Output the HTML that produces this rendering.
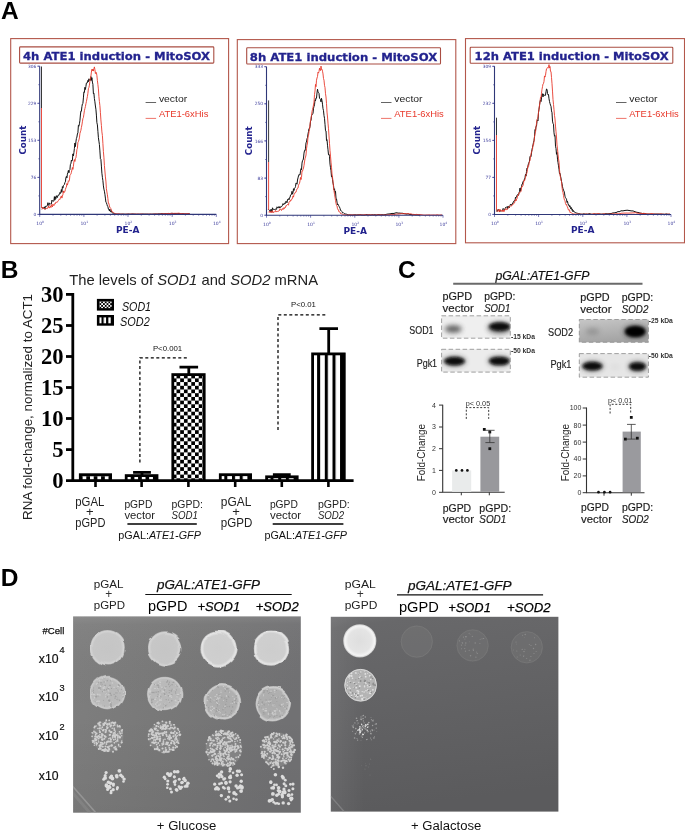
<!DOCTYPE html>
<html><head><meta charset="utf-8"><title>Figure</title>
<style>
html,body{margin:0;padding:0;background:#fff}
svg{display:block}
.s{font-family:"Liberation Sans",sans-serif}
.r{font-family:"Liberation Serif",serif}
.d{font-family:"DejaVu Sans","Liberation Sans",sans-serif}
.b{font-weight:bold}
.i{font-style:italic}
</style></head><body>
<svg width="685" height="832" viewBox="0 0 685 832">
<rect width="685" height="832" fill="#fff"/>
<text class="s b" x="0.9" y="18.6" font-size="24.5">A</text>
<rect x="10.7" y="38.6" width="217.9" height="205.0" fill="#fff" stroke="#b3574b" stroke-width="1.1"/>
<rect x="19.6" y="46.9" width="194.2" height="16.2" rx="0.8" fill="#fff" stroke="#a94d42" stroke-width="1.1"/>
<text class="d b" x="23" y="60" font-size="11.3" fill="#23238e" textLength="187" lengthAdjust="spacingAndGlyphs" stroke="#23238e" stroke-width="0.3">4h ATE1 induction - MitoSOX</text>
<path d="M37.2,214.4 H39.7" stroke="#23238e" stroke-width="0.6"/>
<text class="d" x="36.3" y="216" font-size="4.4" fill="#3c3c9c" text-anchor="end">0</text>
<path d="M37.2,177.4 H39.7" stroke="#23238e" stroke-width="0.6"/>
<text class="d" x="36.3" y="178.95" font-size="4.4" fill="#3c3c9c" text-anchor="end">76</text>
<path d="M37.2,140.3 H39.7" stroke="#23238e" stroke-width="0.6"/>
<text class="d" x="36.3" y="141.9" font-size="4.4" fill="#3c3c9c" text-anchor="end">153</text>
<path d="M37.2,103.3 H39.7" stroke="#23238e" stroke-width="0.6"/>
<text class="d" x="36.3" y="104.85" font-size="4.4" fill="#3c3c9c" text-anchor="end">229</text>
<path d="M37.2,66.2 H39.7" stroke="#23238e" stroke-width="0.6"/>
<text class="d" x="36.3" y="67.8" font-size="4.4" fill="#3c3c9c" text-anchor="end">306</text>
<path d="M38.2,214.4 H39.7" stroke="#23238e" stroke-width="0.5"/>
<path d="M38.2,195.9 H39.7" stroke="#23238e" stroke-width="0.5"/>
<path d="M38.2,177.4 H39.7" stroke="#23238e" stroke-width="0.5"/>
<path d="M38.2,158.8 H39.7" stroke="#23238e" stroke-width="0.5"/>
<path d="M38.2,140.3 H39.7" stroke="#23238e" stroke-width="0.5"/>
<path d="M38.2,121.8 H39.7" stroke="#23238e" stroke-width="0.5"/>
<path d="M38.2,103.3 H39.7" stroke="#23238e" stroke-width="0.5"/>
<path d="M38.2,84.7 H39.7" stroke="#23238e" stroke-width="0.5"/>
<path d="M38.2,66.2 H39.7" stroke="#23238e" stroke-width="0.5"/>
<path d="M39.7,214.4 V216.9" stroke="#23238e" stroke-width="0.6"/>
<text class="d" x="36.3" y="224.8" font-size="4.5" fill="#3c3c9c">10<tspan dy="-2" font-size="3">0</tspan></text>
<path d="M53.0,214.4 V215.9" stroke="#23238e" stroke-width="0.45"/>
<path d="M60.8,214.4 V215.9" stroke="#23238e" stroke-width="0.45"/>
<path d="M66.3,214.4 V215.9" stroke="#23238e" stroke-width="0.45"/>
<path d="M70.6,214.4 V215.9" stroke="#23238e" stroke-width="0.45"/>
<path d="M74.1,214.4 V215.9" stroke="#23238e" stroke-width="0.45"/>
<path d="M77.0,214.4 V215.9" stroke="#23238e" stroke-width="0.45"/>
<path d="M79.6,214.4 V215.9" stroke="#23238e" stroke-width="0.45"/>
<path d="M81.8,214.4 V215.9" stroke="#23238e" stroke-width="0.45"/>
<path d="M83.9,214.4 V216.9" stroke="#23238e" stroke-width="0.6"/>
<text class="d" x="80.5" y="224.8" font-size="4.5" fill="#3c3c9c">10<tspan dy="-2" font-size="3">1</tspan></text>
<path d="M97.1,214.4 V215.9" stroke="#23238e" stroke-width="0.45"/>
<path d="M104.9,214.4 V215.9" stroke="#23238e" stroke-width="0.45"/>
<path d="M110.4,214.4 V215.9" stroke="#23238e" stroke-width="0.45"/>
<path d="M114.7,214.4 V215.9" stroke="#23238e" stroke-width="0.45"/>
<path d="M118.2,214.4 V215.9" stroke="#23238e" stroke-width="0.45"/>
<path d="M121.2,214.4 V215.9" stroke="#23238e" stroke-width="0.45"/>
<path d="M123.7,214.4 V215.9" stroke="#23238e" stroke-width="0.45"/>
<path d="M126.0,214.4 V215.9" stroke="#23238e" stroke-width="0.45"/>
<path d="M128.0,214.4 V216.9" stroke="#23238e" stroke-width="0.6"/>
<text class="d" x="124.6" y="224.8" font-size="4.5" fill="#3c3c9c">10<tspan dy="-2" font-size="3">2</tspan></text>
<path d="M141.3,214.4 V215.9" stroke="#23238e" stroke-width="0.45"/>
<path d="M149.1,214.4 V215.9" stroke="#23238e" stroke-width="0.45"/>
<path d="M154.6,214.4 V215.9" stroke="#23238e" stroke-width="0.45"/>
<path d="M158.9,214.4 V215.9" stroke="#23238e" stroke-width="0.45"/>
<path d="M162.4,214.4 V215.9" stroke="#23238e" stroke-width="0.45"/>
<path d="M165.3,214.4 V215.9" stroke="#23238e" stroke-width="0.45"/>
<path d="M167.9,214.4 V215.9" stroke="#23238e" stroke-width="0.45"/>
<path d="M170.1,214.4 V215.9" stroke="#23238e" stroke-width="0.45"/>
<path d="M172.2,214.4 V216.9" stroke="#23238e" stroke-width="0.6"/>
<text class="d" x="168.8" y="224.8" font-size="4.5" fill="#3c3c9c">10<tspan dy="-2" font-size="3">3</tspan></text>
<path d="M185.4,214.4 V215.9" stroke="#23238e" stroke-width="0.45"/>
<path d="M193.2,214.4 V215.9" stroke="#23238e" stroke-width="0.45"/>
<path d="M198.7,214.4 V215.9" stroke="#23238e" stroke-width="0.45"/>
<path d="M203.0,214.4 V215.9" stroke="#23238e" stroke-width="0.45"/>
<path d="M206.5,214.4 V215.9" stroke="#23238e" stroke-width="0.45"/>
<path d="M209.5,214.4 V215.9" stroke="#23238e" stroke-width="0.45"/>
<path d="M212.0,214.4 V215.9" stroke="#23238e" stroke-width="0.45"/>
<path d="M214.3,214.4 V215.9" stroke="#23238e" stroke-width="0.45"/>
<path d="M216.3,214.4 V216.9" stroke="#23238e" stroke-width="0.6"/>
<text class="d" x="212.9" y="224.8" font-size="4.5" fill="#3c3c9c">10<tspan dy="-2" font-size="3">4</tspan></text>
<text class="d b" x="25.7" y="154.5" font-size="8.8" fill="#23238e" textLength="28.8" lengthAdjust="spacingAndGlyphs" transform="rotate(-90 25.700000000000003 154.5)">Count</text>
<text class="d b" x="116" y="233.2" font-size="9.2" fill="#23238e" textLength="23.5" lengthAdjust="spacingAndGlyphs">PE-A</text>
<path d="M145.6,102.5 H156.1" stroke="#222" stroke-width="0.7"/>
<text class="s" x="158.9" y="101.6" font-size="9.9" fill="#222" textLength="28.3" lengthAdjust="spacingAndGlyphs">vector</text>
<path d="M145.6,118.4 H156.1" stroke="#e8392b" stroke-width="0.7"/>
<text class="s" x="158.9" y="117.3" font-size="9.9" fill="#e8392b" textLength="49.5" lengthAdjust="spacingAndGlyphs">ATE1-6xHis</text>
<path d="M41.5,66.5 V108" stroke="#222" stroke-width="0.9"/>
<path d="M41.5,108 V208" stroke="#e8392b" stroke-width="0.9"/>
<path d="M41.9,208.5 L42.4,208.2 L42.9,207.4 L43.4,208.3 L43.9,207.7 L44.4,206.8 L44.9,209.3 L45.4,207.2 L45.9,206.0 L46.4,206.2 L46.9,205.8 L47.4,205.6 L47.9,202.7 L48.4,204.4 L48.9,205.5 L49.4,202.9 L49.9,203.6 L50.4,204.2 L50.9,203.7 L51.4,203.9 L51.9,200.2 L52.4,201.1 L52.9,200.7 L53.4,201.1 L53.9,201.1 L54.4,196.6 L54.9,200.1 L55.4,196.8 L55.9,198.6 L56.4,195.7 L56.9,196.9 L57.4,197.5 L57.9,195.4 L58.4,195.3 L58.9,195.3 L59.4,193.7 L59.9,192.5 L60.4,193.5 L60.9,192.1 L61.4,189.5 L61.9,192.3 L62.4,186.6 L62.9,188.1 L63.4,185.6 L63.9,184.9 L64.4,184.5 L64.9,182.6 L65.4,181.9 L65.9,177.7 L66.4,176.4 L66.9,177.9 L67.4,174.2 L67.9,172.6 L68.4,170.4 L68.9,172.8 L69.4,170.4 L69.9,169.8 L70.4,164.3 L70.9,163.9 L71.4,160.1 L71.9,161.1 L72.4,160.3 L72.9,153.9 L73.4,155.9 L73.9,152.6 L74.4,148.4 L74.9,143.0 L75.4,146.6 L75.9,141.9 L76.4,138.5 L76.9,137.1 L77.4,134.0 L77.9,132.8 L78.4,125.4 L78.9,126.2 L79.4,123.8 L79.9,120.8 L80.4,115.0 L80.9,111.1 L81.4,111.2 L81.9,106.7 L82.4,103.9 L82.9,103.4 L83.4,97.9 L83.9,91.9 L84.4,92.4 L84.9,87.3 L85.4,89.5 L85.9,86.5 L86.4,83.0 L86.9,82.5 L87.4,82.7 L87.9,80.4 L88.4,81.7 L88.9,78.8 L89.4,80.2 L89.9,80.6 L90.4,80.4 L90.9,76.6 L91.4,80.4 L91.9,77.7 L92.4,82.1 L92.9,84.3 L93.4,93.7 L93.9,93.1 L94.4,98.6 L94.9,101.8 L95.4,106.0 L95.9,109.2 L96.4,115.1 L96.9,122.7 L97.4,124.9 L97.9,131.3 L98.4,137.7 L98.9,141.1 L99.4,144.5 L99.9,150.9 L100.4,158.8 L100.9,159.4 L101.4,166.1 L101.9,173.2 L102.4,177.3 L102.9,180.6 L103.4,185.9 L103.9,189.1 L104.4,191.2 L104.9,194.2 L105.4,198.1 L105.9,202.1 L106.4,202.7 L106.9,204.3 L107.4,206.0 L107.9,206.7 L108.4,209.1 L108.9,209.0 L109.4,211.0 L109.9,209.1 L110.4,211.8 L110.9,211.4 L111.4,210.6 L111.9,212.6 L112.4,212.9 L112.9,213.1 L113.4,213.3 L113.9,213.4 L114.4,213.6 L116.0,214.2 L117.0,214.2 L118.0,214.3 L119.0,214.2 L120.0,214.1 L121.0,214.3 L122.0,214.1 L123.0,214.2 L124.0,214.1 L125.0,214.3 L126.0,214.2 L127.0,214.3 L128.0,214.0 L129.0,214.1 L130.0,214.2 L131.0,214.2 L132.0,214.0 L133.0,214.0 L134.0,214.1 L135.0,214.2 L136.0,214.2 L137.0,214.3 L138.0,214.2 L139.0,214.2 L140.0,214.2 L141.0,214.2 L142.0,214.2 L143.0,214.0 L144.0,214.2 L145.0,214.1 L146.0,214.2 L147.0,214.1 L148.0,214.2 L149.0,214.3 L150.0,214.1 L151.0,214.2 L152.0,214.2 L153.0,214.1 L154.0,214.1 L155.0,214.0 L156.0,214.0 L157.0,214.1 L158.0,214.0 L159.0,213.8 L160.0,214.0 L161.0,213.7 L162.0,213.5 L163.0,213.8 L164.0,213.8 L165.0,213.6 L166.0,213.7 L167.0,213.7 L168.0,213.4 L169.0,213.5 L170.0,213.5 L171.0,213.4 L172.0,213.3 L173.0,213.5 L174.0,213.6 L175.0,213.4 L176.0,213.6 L177.0,213.6 L178.0,213.7 L179.0,213.5 L180.0,213.7 L181.0,213.8 L182.0,213.7 L183.0,213.6 L184.0,213.8 L185.0,214.0 L186.0,213.8 L187.0,214.0 L188.0,213.8 L189.0,213.7 L190.0,214.2" fill="none" stroke="#111" stroke-width="1.0" stroke-linejoin="round"/>
<path d="M41.9,209.5 L42.4,208.7 L42.9,207.3 L43.4,208.2 L43.9,208.9 L44.4,208.3 L44.9,209.1 L45.4,209.0 L45.9,208.8 L46.4,208.4 L46.9,209.0 L47.4,208.3 L47.9,208.0 L48.4,205.9 L48.9,207.8 L49.4,207.9 L49.9,206.5 L50.4,206.1 L50.9,207.6 L51.4,204.6 L51.9,205.9 L52.4,207.0 L52.9,204.2 L53.4,205.1 L53.9,205.7 L54.4,203.8 L54.9,203.9 L55.4,203.8 L55.9,202.1 L56.4,202.3 L56.9,202.2 L57.4,202.2 L57.9,201.1 L58.4,200.6 L58.9,199.5 L59.4,199.3 L59.9,199.6 L60.4,198.2 L60.9,196.7 L61.4,195.9 L61.9,198.1 L62.4,196.0 L62.9,194.7 L63.4,190.9 L63.9,192.8 L64.4,191.7 L64.9,191.7 L65.4,189.4 L65.9,187.8 L66.4,187.1 L66.9,183.5 L67.4,185.1 L67.9,183.1 L68.4,180.7 L68.9,181.3 L69.4,180.4 L69.9,175.5 L70.4,174.7 L70.9,174.1 L71.4,172.3 L71.9,170.0 L72.4,167.5 L72.9,169.4 L73.4,166.3 L73.9,161.7 L74.4,159.6 L74.9,161.5 L75.4,158.6 L75.9,157.8 L76.4,154.3 L76.9,149.6 L77.4,148.4 L77.9,142.5 L78.4,141.7 L78.9,139.9 L79.4,137.9 L79.9,133.6 L80.4,131.9 L80.9,130.3 L81.4,127.4 L81.9,125.0 L82.4,121.8 L82.9,118.6 L83.4,117.6 L83.9,114.2 L84.4,110.7 L84.9,108.6 L85.4,106.6 L85.9,103.8 L86.4,101.6 L86.9,98.9 L87.4,96.5 L87.9,93.3 L88.4,88.7 L88.9,87.6 L89.4,85.2 L89.9,81.4 L90.4,77.9 L90.9,76.2 L91.4,72.1 L91.9,69.3 L92.4,70.8 L92.9,69.0 L93.4,71.1 L93.9,68.7 L94.4,66.9 L94.9,69.5 L95.4,73.6 L95.9,72.2 L96.4,72.6 L96.9,75.7 L97.4,80.6 L97.9,84.6 L98.4,88.9 L98.9,96.4 L99.4,101.4 L99.9,105.7 L100.4,112.3 L100.9,119.9 L101.4,125.4 L101.9,131.9 L102.4,135.5 L102.9,143.5 L103.4,151.7 L103.9,157.2 L104.4,165.5 L104.9,171.0 L105.4,176.9 L105.9,181.1 L106.4,188.7 L106.9,192.0 L107.4,194.8 L107.9,198.6 L108.4,203.4 L108.9,203.3 L109.4,206.0 L109.9,207.5 L110.4,208.0 L110.9,208.4 L111.4,210.2 L111.9,211.1 L112.4,212.2 L112.9,212.5 L113.4,212.4 L113.9,212.8 L114.4,213.2 L114.9,213.5 L115.4,213.6 L115.9,213.7 L116.4,213.7 L116.9,213.7 L117.4,213.7 L117.9,213.6 L118.4,213.6 L120.0,214.2 L121.0,214.1 L122.0,214.1 L123.0,214.1 L124.0,214.3 L125.0,214.3 L126.0,214.2 L127.0,214.0 L128.0,214.2 L129.0,214.2 L130.0,214.2 L131.0,214.0 L132.0,214.0 L133.0,214.1 L134.0,214.2 L135.0,213.9 L136.0,214.2 L137.0,214.1 L138.0,213.9 L139.0,214.3 L140.0,214.1 L141.0,214.0 L142.0,214.0 L143.0,214.2 L144.0,214.3 L145.0,214.2 L146.0,214.2 L147.0,214.3 L148.0,214.1 L149.0,214.2 L150.0,214.2 L151.0,214.1 L152.0,214.3 L153.0,214.1 L154.0,214.1 L155.0,214.0 L156.0,214.1 L157.0,213.9 L158.0,214.2 L159.0,214.1 L160.0,214.1 L161.0,213.8 L162.0,213.8 L163.0,213.7 L164.0,213.7 L165.0,213.7 L166.0,213.7 L167.0,213.5 L168.0,213.5 L169.0,213.5 L170.0,213.5 L171.0,213.5 L172.0,213.3 L173.0,213.4 L174.0,213.4 L175.0,213.3 L176.0,213.4 L177.0,213.3 L178.0,213.3 L179.0,213.1 L180.0,213.5 L181.0,213.5 L182.0,213.6 L183.0,213.7 L184.0,213.6 L185.0,213.8 L186.0,213.8 L187.0,213.6 L188.0,213.5 L189.0,213.8 L190.0,214.1" fill="none" stroke="#e8392b" stroke-width="0.9" stroke-linejoin="round"/>
<path d="M39.7,66.2 V214.4 H216.3" fill="none" stroke="#2f3778" stroke-width="1.1"/>
<rect x="237.3" y="39.6" width="218.5" height="204.0" fill="#fff" stroke="#b3574b" stroke-width="1.1"/>
<rect x="246.7" y="47.7" width="193.8" height="16.3" rx="0.8" fill="#fff" stroke="#a94d42" stroke-width="1.1"/>
<text class="d b" x="249.8" y="60.9" font-size="11.3" fill="#23238e" textLength="187.4" lengthAdjust="spacingAndGlyphs" stroke="#23238e" stroke-width="0.3">8h ATE1 induction - MitoSOX</text>
<path d="M264.0,215.2 H266.5" stroke="#23238e" stroke-width="0.6"/>
<text class="d" x="263.1" y="216.8" font-size="4.4" fill="#3c3c9c" text-anchor="end">0</text>
<path d="M264.0,178.1 H266.5" stroke="#23238e" stroke-width="0.6"/>
<text class="d" x="263.1" y="179.67" font-size="4.4" fill="#3c3c9c" text-anchor="end">83</text>
<path d="M264.0,140.9 H266.5" stroke="#23238e" stroke-width="0.6"/>
<text class="d" x="263.1" y="142.55" font-size="4.4" fill="#3c3c9c" text-anchor="end">166</text>
<path d="M264.0,103.8 H266.5" stroke="#23238e" stroke-width="0.6"/>
<text class="d" x="263.1" y="105.42" font-size="4.4" fill="#3c3c9c" text-anchor="end">250</text>
<path d="M264.0,66.7 H266.5" stroke="#23238e" stroke-width="0.6"/>
<text class="d" x="263.1" y="68.3" font-size="4.4" fill="#3c3c9c" text-anchor="end">333</text>
<path d="M265.0,215.2 H266.5" stroke="#23238e" stroke-width="0.5"/>
<path d="M265.0,196.6 H266.5" stroke="#23238e" stroke-width="0.5"/>
<path d="M265.0,178.1 H266.5" stroke="#23238e" stroke-width="0.5"/>
<path d="M265.0,159.5 H266.5" stroke="#23238e" stroke-width="0.5"/>
<path d="M265.0,140.9 H266.5" stroke="#23238e" stroke-width="0.5"/>
<path d="M265.0,122.4 H266.5" stroke="#23238e" stroke-width="0.5"/>
<path d="M265.0,103.8 H266.5" stroke="#23238e" stroke-width="0.5"/>
<path d="M265.0,85.3 H266.5" stroke="#23238e" stroke-width="0.5"/>
<path d="M265.0,66.7 H266.5" stroke="#23238e" stroke-width="0.5"/>
<path d="M266.5,215.2 V217.7" stroke="#23238e" stroke-width="0.6"/>
<text class="d" x="263.1" y="225.6" font-size="4.5" fill="#3c3c9c">10<tspan dy="-2" font-size="3">0</tspan></text>
<path d="M279.8,215.2 V216.7" stroke="#23238e" stroke-width="0.45"/>
<path d="M287.6,215.2 V216.7" stroke="#23238e" stroke-width="0.45"/>
<path d="M293.1,215.2 V216.7" stroke="#23238e" stroke-width="0.45"/>
<path d="M297.3,215.2 V216.7" stroke="#23238e" stroke-width="0.45"/>
<path d="M300.8,215.2 V216.7" stroke="#23238e" stroke-width="0.45"/>
<path d="M303.8,215.2 V216.7" stroke="#23238e" stroke-width="0.45"/>
<path d="M306.3,215.2 V216.7" stroke="#23238e" stroke-width="0.45"/>
<path d="M308.6,215.2 V216.7" stroke="#23238e" stroke-width="0.45"/>
<path d="M310.6,215.2 V217.7" stroke="#23238e" stroke-width="0.6"/>
<text class="d" x="307.2" y="225.6" font-size="4.5" fill="#3c3c9c">10<tspan dy="-2" font-size="3">1</tspan></text>
<path d="M323.9,215.2 V216.7" stroke="#23238e" stroke-width="0.45"/>
<path d="M331.7,215.2 V216.7" stroke="#23238e" stroke-width="0.45"/>
<path d="M337.2,215.2 V216.7" stroke="#23238e" stroke-width="0.45"/>
<path d="M341.5,215.2 V216.7" stroke="#23238e" stroke-width="0.45"/>
<path d="M345.0,215.2 V216.7" stroke="#23238e" stroke-width="0.45"/>
<path d="M347.9,215.2 V216.7" stroke="#23238e" stroke-width="0.45"/>
<path d="M350.5,215.2 V216.7" stroke="#23238e" stroke-width="0.45"/>
<path d="M352.7,215.2 V216.7" stroke="#23238e" stroke-width="0.45"/>
<path d="M354.8,215.2 V217.7" stroke="#23238e" stroke-width="0.6"/>
<text class="d" x="351.4" y="225.6" font-size="4.5" fill="#3c3c9c">10<tspan dy="-2" font-size="3">2</tspan></text>
<path d="M368.0,215.2 V216.7" stroke="#23238e" stroke-width="0.45"/>
<path d="M375.8,215.2 V216.7" stroke="#23238e" stroke-width="0.45"/>
<path d="M381.3,215.2 V216.7" stroke="#23238e" stroke-width="0.45"/>
<path d="M385.6,215.2 V216.7" stroke="#23238e" stroke-width="0.45"/>
<path d="M389.1,215.2 V216.7" stroke="#23238e" stroke-width="0.45"/>
<path d="M392.0,215.2 V216.7" stroke="#23238e" stroke-width="0.45"/>
<path d="M394.6,215.2 V216.7" stroke="#23238e" stroke-width="0.45"/>
<path d="M396.9,215.2 V216.7" stroke="#23238e" stroke-width="0.45"/>
<path d="M398.9,215.2 V217.7" stroke="#23238e" stroke-width="0.6"/>
<text class="d" x="395.5" y="225.6" font-size="4.5" fill="#3c3c9c">10<tspan dy="-2" font-size="3">3</tspan></text>
<path d="M412.2,215.2 V216.7" stroke="#23238e" stroke-width="0.45"/>
<path d="M419.9,215.2 V216.7" stroke="#23238e" stroke-width="0.45"/>
<path d="M425.4,215.2 V216.7" stroke="#23238e" stroke-width="0.45"/>
<path d="M429.7,215.2 V216.7" stroke="#23238e" stroke-width="0.45"/>
<path d="M433.2,215.2 V216.7" stroke="#23238e" stroke-width="0.45"/>
<path d="M436.2,215.2 V216.7" stroke="#23238e" stroke-width="0.45"/>
<path d="M438.7,215.2 V216.7" stroke="#23238e" stroke-width="0.45"/>
<path d="M441.0,215.2 V216.7" stroke="#23238e" stroke-width="0.45"/>
<path d="M443.0,215.2 V217.7" stroke="#23238e" stroke-width="0.6"/>
<text class="d" x="439.6" y="225.6" font-size="4.5" fill="#3c3c9c">10<tspan dy="-2" font-size="3">4</tspan></text>
<text class="d b" x="252.5" y="155.15" font-size="8.8" fill="#23238e" textLength="28.8" lengthAdjust="spacingAndGlyphs" transform="rotate(-90 252.5 155.14999999999998)">Count</text>
<text class="d b" x="343.4" y="234" font-size="9.2" fill="#23238e" textLength="23.5" lengthAdjust="spacingAndGlyphs">PE-A</text>
<path d="M381,102.5 H391.5" stroke="#222" stroke-width="0.7"/>
<text class="s" x="394.3" y="101.6" font-size="9.9" fill="#222" textLength="28.3" lengthAdjust="spacingAndGlyphs">vector</text>
<path d="M381,118.4 H391.5" stroke="#e8392b" stroke-width="0.7"/>
<text class="s" x="394.3" y="117.3" font-size="9.9" fill="#e8392b" textLength="49.5" lengthAdjust="spacingAndGlyphs">ATE1-6xHis</text>
<path d="M268.6,100.4 V162" stroke="#222" stroke-width="0.9"/>
<path d="M268.6,162 V210" stroke="#e8392b" stroke-width="0.9"/>
<path d="M268.5,209.7 L269.0,210.2 L269.5,210.4 L270.0,210.4 L270.5,211.7 L271.0,209.1 L271.5,209.7 L272.0,212.2 L272.5,207.8 L273.0,209.0 L273.5,209.5 L274.0,209.4 L274.5,209.6 L275.0,208.9 L275.5,209.3 L276.0,208.9 L276.5,209.4 L277.0,206.8 L277.5,207.5 L278.0,208.1 L278.5,206.9 L279.0,206.7 L279.5,208.0 L280.0,206.5 L280.5,207.4 L281.0,207.2 L281.5,206.4 L282.0,206.3 L282.5,205.3 L283.0,203.6 L283.5,204.5 L284.0,204.6 L284.5,203.1 L285.0,203.1 L285.5,203.4 L286.0,201.2 L286.5,202.1 L287.0,202.8 L287.5,199.6 L288.0,199.7 L288.5,198.7 L289.0,199.8 L289.5,197.7 L290.0,197.6 L290.5,195.1 L291.0,195.0 L291.5,194.2 L292.0,191.3 L292.5,194.2 L293.0,192.7 L293.5,188.7 L294.0,190.5 L294.5,188.3 L295.0,187.8 L295.5,186.5 L296.0,182.9 L296.5,183.3 L297.0,184.2 L297.5,180.0 L298.0,177.9 L298.5,175.9 L299.0,174.4 L299.5,174.8 L300.0,174.9 L300.5,171.1 L301.0,168.7 L301.5,169.7 L302.0,163.1 L302.5,160.6 L303.0,160.3 L303.5,158.0 L304.0,153.1 L304.5,150.6 L305.0,150.9 L305.5,148.2 L306.0,142.8 L306.5,142.0 L307.0,138.7 L307.5,137.7 L308.0,134.0 L308.5,131.5 L309.0,128.5 L309.5,128.6 L310.0,126.7 L310.5,121.1 L311.0,120.7 L311.5,115.7 L312.0,114.9 L312.5,114.0 L313.0,113.3 L313.5,108.2 L314.0,106.5 L314.5,104.8 L315.0,99.9 L315.5,100.7 L316.0,97.9 L316.5,98.1 L317.0,92.9 L317.5,89.2 L318.0,91.7 L318.5,92.9 L319.0,93.4 L319.5,98.3 L320.0,98.6 L320.5,99.6 L321.0,101.9 L321.5,98.3 L322.0,100.7 L322.5,104.2 L323.0,108.7 L323.5,110.7 L324.0,115.6 L324.5,118.3 L325.0,124.3 L325.5,130.7 L326.0,130.9 L326.5,140.5 L327.0,139.7 L327.5,145.2 L328.0,149.8 L328.5,154.8 L329.0,154.3 L329.5,156.3 L330.0,164.1 L330.5,167.7 L331.0,170.7 L331.5,176.8 L332.0,176.3 L332.5,179.3 L333.0,183.1 L333.5,185.3 L334.0,189.7 L334.5,188.8 L335.0,192.4 L335.5,191.3 L336.0,198.2 L336.5,198.9 L337.0,202.1 L337.5,204.9 L338.0,204.2 L338.5,205.3 L339.0,206.3 L339.5,207.1 L340.0,208.3 L340.5,210.3 L341.0,210.5 L341.5,211.1 L342.0,211.5 L342.5,212.9 L343.0,212.9 L343.5,212.8 L344.0,213.3 L344.5,213.6 L345.0,213.8 L345.5,214.0 L346.0,214.1 L346.5,214.2 L347.0,214.3 L348.0,215.1 L349.0,214.9 L350.0,215.0 L351.0,215.0 L352.0,215.1 L353.0,215.0 L354.0,214.9 L355.0,214.8 L356.0,214.9 L357.0,215.1 L358.0,214.7 L359.0,215.0 L360.0,214.6 L361.0,214.9 L362.0,215.0 L363.0,215.0 L364.0,215.1 L365.0,215.0 L366.0,214.7 L367.0,214.6 L368.0,215.0 L369.0,214.8 L370.0,214.9 L371.0,215.1 L372.0,214.6 L373.0,214.9 L374.0,214.9 L375.0,214.6 L376.0,215.1 L377.0,214.9 L378.0,214.6 L379.0,214.6 L380.0,214.8 L381.0,214.8 L382.0,214.6 L383.0,214.9 L384.0,214.8 L385.0,214.6 L386.0,214.5 L387.0,214.1 L388.0,214.1 L389.0,213.9 L390.0,213.9 L391.0,213.6 L392.0,213.4 L393.0,213.5 L394.0,213.4 L395.0,213.1 L396.0,212.8 L397.0,212.8 L398.0,213.1 L399.0,213.1 L400.0,213.1 L401.0,213.3 L402.0,213.2 L403.0,213.4 L404.0,213.6 L405.0,213.9 L406.0,213.9 L407.0,214.2 L408.0,213.7 L409.0,214.3 L410.0,214.6 L411.0,214.4 L412.0,214.8 L413.0,214.9 L414.0,214.6 L415.0,214.9 L416.0,214.9 L417.0,214.9 L418.0,214.9 L419.0,215.1 L420.0,214.9" fill="none" stroke="#111" stroke-width="1.0" stroke-linejoin="round"/>
<path d="M268.5,212.3 L269.0,211.8 L269.5,211.1 L270.0,212.8 L270.5,212.2 L271.0,211.2 L271.5,212.5 L272.0,212.0 L272.5,210.7 L273.0,212.8 L273.5,212.0 L274.0,212.3 L274.5,211.8 L275.0,211.5 L275.5,210.5 L276.0,212.1 L276.5,211.4 L277.0,211.1 L277.5,211.4 L278.0,211.1 L278.5,211.3 L279.0,210.4 L279.5,210.4 L280.0,208.7 L280.5,209.7 L281.0,210.2 L281.5,210.4 L282.0,208.9 L282.5,208.7 L283.0,209.6 L283.5,207.9 L284.0,208.3 L284.5,208.6 L285.0,207.0 L285.5,207.4 L286.0,205.5 L286.5,205.7 L287.0,204.9 L287.5,204.5 L288.0,204.8 L288.5,205.1 L289.0,202.2 L289.5,201.6 L290.0,201.8 L290.5,199.9 L291.0,200.5 L291.5,199.9 L292.0,198.5 L292.5,198.4 L293.0,195.9 L293.5,197.1 L294.0,194.2 L294.5,193.9 L295.0,193.0 L295.5,192.1 L296.0,192.2 L296.5,190.4 L297.0,188.8 L297.5,188.4 L298.0,188.1 L298.5,185.2 L299.0,184.1 L299.5,183.4 L300.0,180.8 L300.5,177.4 L301.0,179.6 L301.5,177.5 L302.0,170.9 L302.5,171.1 L303.0,169.5 L303.5,168.0 L304.0,165.5 L304.5,162.0 L305.0,158.7 L305.5,157.1 L306.0,155.0 L306.5,148.8 L307.0,145.3 L307.5,143.0 L308.0,136.9 L308.5,135.5 L309.0,131.8 L309.5,129.7 L310.0,124.9 L310.5,121.1 L311.0,118.4 L311.5,115.6 L312.0,111.6 L312.5,109.5 L313.0,107.4 L313.5,105.0 L314.0,102.1 L314.5,94.6 L315.0,91.0 L315.5,84.4 L316.0,86.7 L316.5,80.2 L317.0,78.0 L317.5,76.5 L318.0,72.2 L318.5,73.1 L319.0,71.5 L319.5,68.2 L320.0,70.1 L320.5,70.6 L321.0,66.1 L321.5,69.5 L322.0,69.2 L322.5,71.2 L323.0,73.9 L323.5,78.5 L324.0,80.2 L324.5,85.3 L325.0,87.6 L325.5,93.7 L326.0,97.0 L326.5,103.5 L327.0,112.1 L327.5,117.0 L328.0,123.2 L328.5,128.8 L329.0,135.9 L329.5,143.4 L330.0,150.6 L330.5,156.1 L331.0,162.2 L331.5,167.2 L332.0,174.0 L332.5,177.1 L333.0,181.7 L333.5,187.5 L334.0,190.8 L334.5,194.2 L335.0,197.3 L335.5,200.3 L336.0,203.4 L336.5,205.3 L337.0,205.9 L337.5,208.7 L338.0,209.8 L338.5,209.9 L339.0,211.9 L339.5,211.8 L340.0,212.3 L340.5,213.5 L341.0,213.4 L341.5,213.8 L342.0,214.1 L342.5,214.3 L343.0,214.4 L343.5,214.5 L344.0,214.5 L344.5,214.6 L345.0,214.6 L346.0,215.1 L347.0,215.1 L348.0,214.9 L349.0,215.0 L350.0,214.9 L351.0,214.8 L352.0,215.0 L353.0,214.9 L354.0,214.8 L355.0,215.1 L356.0,215.0 L357.0,215.1 L358.0,215.0 L359.0,215.0 L360.0,214.5 L361.0,215.0 L362.0,214.8 L363.0,215.1 L364.0,214.8 L365.0,214.5 L366.0,214.9 L367.0,215.0 L368.0,214.9 L369.0,214.5 L370.0,215.0 L371.0,214.8 L372.0,214.9 L373.0,214.9 L374.0,215.0 L375.0,215.1 L376.0,215.0 L377.0,214.8 L378.0,214.8 L379.0,214.8 L380.0,215.0 L381.0,214.6 L382.0,215.0 L383.0,215.1 L384.0,214.8 L385.0,215.1 L386.0,214.8 L387.0,215.0 L388.0,214.9 L389.0,214.8 L390.0,214.7 L391.0,214.4 L392.0,214.4 L393.0,214.7 L394.0,214.6 L395.0,214.4 L396.0,214.1 L397.0,214.1 L398.0,214.0 L399.0,214.0 L400.0,213.8 L401.0,213.7 L402.0,213.5 L403.0,213.8 L404.0,213.6 L405.0,213.6 L406.0,213.8 L407.0,213.8 L408.0,213.6 L409.0,213.8 L410.0,214.1 L411.0,213.7 L412.0,214.4 L413.0,214.3 L414.0,214.5 L415.0,214.7 L416.0,214.4 L417.0,214.4 L418.0,214.6 L419.0,214.7 L420.0,214.6 L421.0,214.6 L422.0,214.8 L423.0,214.9 L424.0,215.1 L425.0,215.0 L426.0,215.1 L427.0,214.8 L428.0,215.1 L429.0,214.7 L430.0,215.1 L431.0,215.0 L432.0,215.0 L433.0,215.0 L434.0,214.9 L435.0,215.1 L436.0,215.0 L437.0,214.7 L438.0,214.9 L439.0,215.1 L440.0,215.0 L441.0,214.9 L442.0,214.9" fill="none" stroke="#e8392b" stroke-width="0.9" stroke-linejoin="round"/>
<path d="M266.5,66.7 V215.2 H443" fill="none" stroke="#2f3778" stroke-width="1.1"/>
<rect x="465.5" y="38.6" width="219.0" height="204.2" fill="#fff" stroke="#b3574b" stroke-width="1.1"/>
<rect x="470.2" y="47.3" width="202.6" height="15.9" rx="0.8" fill="#fff" stroke="#a94d42" stroke-width="1.1"/>
<text class="d b" x="474.6" y="60.1" font-size="11.3" fill="#23238e" textLength="194" lengthAdjust="spacingAndGlyphs" stroke="#23238e" stroke-width="0.3">12h ATE1 induction - MitoSOX</text>
<path d="M492.0,214.4 H494.5" stroke="#23238e" stroke-width="0.6"/>
<text class="d" x="491.1" y="216.05" font-size="4.4" fill="#3c3c9c" text-anchor="end">0</text>
<path d="M492.0,177.4 H494.5" stroke="#23238e" stroke-width="0.6"/>
<text class="d" x="491.1" y="179.01" font-size="4.4" fill="#3c3c9c" text-anchor="end">77</text>
<path d="M492.0,140.4 H494.5" stroke="#23238e" stroke-width="0.6"/>
<text class="d" x="491.1" y="141.97" font-size="4.4" fill="#3c3c9c" text-anchor="end">154</text>
<path d="M492.0,103.3 H494.5" stroke="#23238e" stroke-width="0.6"/>
<text class="d" x="491.1" y="104.94" font-size="4.4" fill="#3c3c9c" text-anchor="end">232</text>
<path d="M492.0,66.3 H494.5" stroke="#23238e" stroke-width="0.6"/>
<text class="d" x="491.1" y="67.9" font-size="4.4" fill="#3c3c9c" text-anchor="end">309</text>
<path d="M493.0,214.4 H494.5" stroke="#23238e" stroke-width="0.5"/>
<path d="M493.0,195.9 H494.5" stroke="#23238e" stroke-width="0.5"/>
<path d="M493.0,177.4 H494.5" stroke="#23238e" stroke-width="0.5"/>
<path d="M493.0,158.9 H494.5" stroke="#23238e" stroke-width="0.5"/>
<path d="M493.0,140.4 H494.5" stroke="#23238e" stroke-width="0.5"/>
<path d="M493.0,121.9 H494.5" stroke="#23238e" stroke-width="0.5"/>
<path d="M493.0,103.3 H494.5" stroke="#23238e" stroke-width="0.5"/>
<path d="M493.0,84.8 H494.5" stroke="#23238e" stroke-width="0.5"/>
<path d="M493.0,66.3 H494.5" stroke="#23238e" stroke-width="0.5"/>
<path d="M494.5,214.45 V216.95" stroke="#23238e" stroke-width="0.6"/>
<text class="d" x="491.1" y="224.85" font-size="4.5" fill="#3c3c9c">10<tspan dy="-2" font-size="3">0</tspan></text>
<path d="M507.8,214.45 V215.95" stroke="#23238e" stroke-width="0.45"/>
<path d="M515.6,214.45 V215.95" stroke="#23238e" stroke-width="0.45"/>
<path d="M521.1,214.45 V215.95" stroke="#23238e" stroke-width="0.45"/>
<path d="M525.3,214.45 V215.95" stroke="#23238e" stroke-width="0.45"/>
<path d="M528.8,214.45 V215.95" stroke="#23238e" stroke-width="0.45"/>
<path d="M531.8,214.45 V215.95" stroke="#23238e" stroke-width="0.45"/>
<path d="M534.3,214.45 V215.95" stroke="#23238e" stroke-width="0.45"/>
<path d="M536.6,214.45 V215.95" stroke="#23238e" stroke-width="0.45"/>
<path d="M538.6,214.45 V216.95" stroke="#23238e" stroke-width="0.6"/>
<text class="d" x="535.2" y="224.85" font-size="4.5" fill="#3c3c9c">10<tspan dy="-2" font-size="3">1</tspan></text>
<path d="M551.9,214.45 V215.95" stroke="#23238e" stroke-width="0.45"/>
<path d="M559.7,214.45 V215.95" stroke="#23238e" stroke-width="0.45"/>
<path d="M565.2,214.45 V215.95" stroke="#23238e" stroke-width="0.45"/>
<path d="M569.5,214.45 V215.95" stroke="#23238e" stroke-width="0.45"/>
<path d="M573.0,214.45 V215.95" stroke="#23238e" stroke-width="0.45"/>
<path d="M575.9,214.45 V215.95" stroke="#23238e" stroke-width="0.45"/>
<path d="M578.5,214.45 V215.95" stroke="#23238e" stroke-width="0.45"/>
<path d="M580.7,214.45 V215.95" stroke="#23238e" stroke-width="0.45"/>
<path d="M582.8,214.45 V216.95" stroke="#23238e" stroke-width="0.6"/>
<text class="d" x="579.4" y="224.85" font-size="4.5" fill="#3c3c9c">10<tspan dy="-2" font-size="3">2</tspan></text>
<path d="M596.0,214.45 V215.95" stroke="#23238e" stroke-width="0.45"/>
<path d="M603.8,214.45 V215.95" stroke="#23238e" stroke-width="0.45"/>
<path d="M609.3,214.45 V215.95" stroke="#23238e" stroke-width="0.45"/>
<path d="M613.6,214.45 V215.95" stroke="#23238e" stroke-width="0.45"/>
<path d="M617.1,214.45 V215.95" stroke="#23238e" stroke-width="0.45"/>
<path d="M620.0,214.45 V215.95" stroke="#23238e" stroke-width="0.45"/>
<path d="M622.6,214.45 V215.95" stroke="#23238e" stroke-width="0.45"/>
<path d="M624.9,214.45 V215.95" stroke="#23238e" stroke-width="0.45"/>
<path d="M626.9,214.45 V216.95" stroke="#23238e" stroke-width="0.6"/>
<text class="d" x="623.5" y="224.85" font-size="4.5" fill="#3c3c9c">10<tspan dy="-2" font-size="3">3</tspan></text>
<path d="M640.2,214.45 V215.95" stroke="#23238e" stroke-width="0.45"/>
<path d="M647.9,214.45 V215.95" stroke="#23238e" stroke-width="0.45"/>
<path d="M653.4,214.45 V215.95" stroke="#23238e" stroke-width="0.45"/>
<path d="M657.7,214.45 V215.95" stroke="#23238e" stroke-width="0.45"/>
<path d="M661.2,214.45 V215.95" stroke="#23238e" stroke-width="0.45"/>
<path d="M664.2,214.45 V215.95" stroke="#23238e" stroke-width="0.45"/>
<path d="M666.7,214.45 V215.95" stroke="#23238e" stroke-width="0.45"/>
<path d="M669.0,214.45 V215.95" stroke="#23238e" stroke-width="0.45"/>
<path d="M671.0,214.45 V216.95" stroke="#23238e" stroke-width="0.6"/>
<text class="d" x="667.6" y="224.85" font-size="4.5" fill="#3c3c9c">10<tspan dy="-2" font-size="3">4</tspan></text>
<text class="d b" x="480.5" y="154.57" font-size="8.8" fill="#23238e" textLength="28.8" lengthAdjust="spacingAndGlyphs" transform="rotate(-90 480.5 154.575)">Count</text>
<text class="d b" x="571" y="233.25" font-size="9.2" fill="#23238e" textLength="23.5" lengthAdjust="spacingAndGlyphs">PE-A</text>
<path d="M616,102.5 H626.5" stroke="#222" stroke-width="0.7"/>
<text class="s" x="629.3" y="101.6" font-size="9.9" fill="#222" textLength="28.3" lengthAdjust="spacingAndGlyphs">vector</text>
<path d="M616,118.4 H626.5" stroke="#e8392b" stroke-width="0.7"/>
<text class="s" x="629.3" y="117.3" font-size="9.9" fill="#e8392b" textLength="49.5" lengthAdjust="spacingAndGlyphs">ATE1-6xHis</text>
<path d="M496.5,117.7 V135" stroke="#222" stroke-width="0.9"/>
<path d="M496.5,135 V210" stroke="#e8392b" stroke-width="0.9"/>
<path d="M496.5,210.6 L497.0,211.5 L497.5,209.8 L498.0,210.0 L498.5,209.6 L499.0,209.6 L499.5,211.6 L500.0,211.8 L500.5,210.2 L501.0,210.6 L501.5,211.1 L502.0,210.6 L502.5,210.8 L503.0,208.4 L503.5,208.8 L504.0,209.5 L504.5,210.2 L505.0,208.7 L505.5,207.5 L506.0,207.7 L506.5,207.1 L507.0,206.6 L507.5,208.5 L508.0,206.1 L508.5,206.4 L509.0,208.0 L509.5,206.7 L510.0,205.5 L510.5,204.1 L511.0,204.6 L511.5,205.3 L512.0,203.9 L512.5,204.0 L513.0,202.3 L513.5,202.2 L514.0,200.8 L514.5,200.7 L515.0,200.8 L515.5,197.1 L516.0,197.7 L516.5,197.1 L517.0,195.3 L517.5,194.6 L518.0,194.9 L518.5,195.3 L519.0,192.8 L519.5,191.4 L520.0,188.1 L520.5,191.3 L521.0,188.0 L521.5,186.9 L522.0,184.1 L522.5,184.1 L523.0,181.4 L523.5,181.5 L524.0,180.7 L524.5,178.7 L525.0,177.5 L525.5,174.4 L526.0,176.1 L526.5,171.5 L527.0,168.0 L527.5,168.6 L528.0,165.8 L528.5,163.4 L529.0,162.3 L529.5,161.2 L530.0,156.6 L530.5,156.1 L531.0,156.6 L531.5,153.0 L532.0,149.3 L532.5,147.5 L533.0,144.8 L533.5,142.3 L534.0,140.8 L534.5,136.5 L535.0,129.6 L535.5,130.8 L536.0,126.3 L536.5,126.2 L537.0,121.2 L537.5,119.9 L538.0,120.8 L538.5,112.3 L539.0,109.2 L539.5,105.9 L540.0,101.5 L540.5,99.9 L541.0,101.6 L541.5,98.0 L542.0,94.2 L542.5,93.8 L543.0,96.9 L543.5,94.2 L544.0,94.6 L544.5,95.3 L545.0,95.8 L545.5,95.0 L546.0,91.7 L546.5,89.0 L547.0,89.3 L547.5,93.4 L548.0,94.9 L548.5,94.5 L549.0,98.8 L549.5,101.4 L550.0,103.5 L550.5,105.1 L551.0,106.4 L551.5,110.9 L552.0,112.7 L552.5,121.1 L553.0,123.4 L553.5,124.2 L554.0,132.8 L554.5,136.2 L555.0,135.6 L555.5,146.2 L556.0,148.4 L556.5,154.3 L557.0,152.4 L557.5,159.2 L558.0,162.6 L558.5,165.8 L559.0,169.2 L559.5,173.8 L560.0,173.3 L560.5,176.1 L561.0,178.2 L561.5,181.5 L562.0,183.6 L562.5,186.8 L563.0,188.6 L563.5,190.2 L564.0,191.1 L564.5,193.1 L565.0,196.3 L565.5,197.6 L566.0,198.3 L566.5,199.2 L567.0,202.4 L567.5,201.3 L568.0,203.7 L568.5,205.2 L569.0,204.8 L569.5,206.8 L570.0,205.8 L570.5,208.6 L571.0,208.6 L571.5,207.6 L572.0,210.3 L572.5,209.4 L573.0,211.8 L573.5,210.6 L574.0,211.4 L574.5,212.2 L575.0,212.0 L575.5,212.6 L576.0,212.8 L576.5,213.0 L577.0,213.2 L577.5,213.3 L578.0,213.4 L578.5,213.5 L579.0,213.6 L580.0,214.0 L581.0,214.1 L582.0,214.2 L583.0,214.1 L584.0,213.7 L585.0,214.2 L586.0,214.0 L587.0,214.1 L588.0,214.1 L589.0,213.7 L590.0,213.7 L591.0,214.2 L592.0,214.2 L593.0,214.3 L594.0,214.1 L595.0,213.8 L596.0,214.3 L597.0,213.9 L598.0,214.1 L599.0,213.9 L600.0,214.0 L601.0,214.1 L602.0,214.2 L603.0,213.9 L604.0,214.2 L605.0,213.8 L606.0,213.7 L607.0,213.8 L608.0,213.8 L609.0,213.7 L610.0,213.6 L611.0,213.5 L612.0,213.3 L613.0,212.8 L614.0,213.0 L615.0,212.7 L616.0,212.5 L617.0,212.2 L618.0,211.5 L619.0,211.8 L620.0,211.5 L621.0,210.7 L622.0,210.9 L623.0,210.8 L624.0,210.7 L625.0,210.4 L626.0,210.4 L627.0,210.2 L628.0,210.3 L629.0,210.5 L630.0,210.6 L631.0,210.9 L632.0,210.9 L633.0,210.9 L634.0,211.3 L635.0,211.8 L636.0,212.0 L637.0,212.4 L638.0,212.4 L639.0,212.7 L640.0,213.1 L641.0,213.2 L642.0,213.4 L643.0,213.6 L644.0,213.3 L645.0,213.6 L646.0,213.9 L647.0,214.1 L648.0,214.1 L649.0,214.1 L650.0,214.1 L651.0,214.0 L652.0,214.1 L653.0,214.1 L654.0,214.1 L655.0,214.0 L656.0,214.1 L657.0,214.0 L658.0,214.1 L659.0,214.0 L660.0,214.2 L661.0,214.0 L662.0,214.2 L663.0,214.1 L664.0,214.3 L665.0,214.3 L666.0,213.9 L667.0,214.1 L668.0,214.3 L669.0,214.2 L670.0,214.3" fill="none" stroke="#111" stroke-width="1.0" stroke-linejoin="round"/>
<path d="M496.5,211.2 L497.0,210.6 L497.5,211.4 L498.0,211.0 L498.5,211.1 L499.0,209.1 L499.5,211.7 L500.0,211.0 L500.5,209.7 L501.0,210.9 L501.5,211.1 L502.0,211.5 L502.5,209.9 L503.0,211.5 L503.5,210.2 L504.0,211.7 L504.5,209.8 L505.0,210.1 L505.5,209.2 L506.0,208.4 L506.5,209.7 L507.0,209.3 L507.5,209.5 L508.0,208.7 L508.5,207.4 L509.0,206.3 L509.5,206.7 L510.0,206.3 L510.5,205.8 L511.0,206.4 L511.5,205.8 L512.0,204.9 L512.5,204.8 L513.0,204.0 L513.5,203.8 L514.0,203.6 L514.5,203.0 L515.0,201.0 L515.5,199.5 L516.0,201.0 L516.5,199.0 L517.0,198.9 L517.5,195.7 L518.0,195.8 L518.5,195.1 L519.0,192.8 L519.5,192.6 L520.0,192.6 L520.5,191.9 L521.0,191.3 L521.5,188.0 L522.0,186.1 L522.5,186.5 L523.0,185.5 L523.5,183.3 L524.0,180.3 L524.5,180.9 L525.0,179.4 L525.5,177.5 L526.0,174.8 L526.5,173.9 L527.0,172.6 L527.5,169.2 L528.0,165.7 L528.5,166.2 L529.0,164.2 L529.5,161.4 L530.0,160.3 L530.5,156.1 L531.0,154.4 L531.5,151.8 L532.0,150.6 L532.5,149.6 L533.0,144.7 L533.5,145.0 L534.0,141.3 L534.5,137.3 L535.0,133.9 L535.5,132.4 L536.0,126.7 L536.5,123.7 L537.0,119.5 L537.5,118.6 L538.0,116.9 L538.5,112.5 L539.0,109.0 L539.5,105.0 L540.0,102.4 L540.5,97.3 L541.0,97.8 L541.5,93.2 L542.0,89.3 L542.5,86.7 L543.0,83.9 L543.5,83.5 L544.0,81.4 L544.5,75.9 L545.0,77.1 L545.5,75.3 L546.0,71.6 L546.5,68.9 L547.0,68.5 L547.5,67.6 L548.0,68.2 L548.5,66.9 L549.0,64.6 L549.5,67.9 L550.0,66.5 L550.5,71.4 L551.0,71.5 L551.5,77.4 L552.0,83.7 L552.5,91.1 L553.0,99.5 L553.5,104.4 L554.0,109.8 L554.5,115.4 L555.0,119.0 L555.5,126.1 L556.0,131.7 L556.5,137.0 L557.0,144.9 L557.5,148.9 L558.0,154.3 L558.5,158.8 L559.0,162.2 L559.5,169.8 L560.0,174.8 L560.5,177.5 L561.0,180.2 L561.5,181.4 L562.0,187.1 L562.5,190.8 L563.0,192.5 L563.5,195.6 L564.0,198.3 L564.5,200.1 L565.0,200.8 L565.5,203.6 L566.0,204.8 L566.5,204.4 L567.0,206.5 L567.5,206.8 L568.0,208.7 L568.5,210.1 L569.0,209.8 L569.5,209.8 L570.0,212.6 L570.5,212.5 L571.0,212.6 L571.5,212.9 L572.0,213.2 L572.5,213.5 L573.0,213.7 L573.5,213.9 L574.0,213.9 L574.5,214.0 L575.0,214.0 L575.5,214.0 L576.0,214.0 L577.0,214.1 L578.0,214.1 L579.0,214.1 L580.0,214.2 L581.0,214.2 L582.0,214.3 L583.0,214.2 L584.0,214.2 L585.0,214.3 L586.0,213.9 L587.0,214.2 L588.0,214.3 L589.0,214.1 L590.0,214.3 L591.0,214.2 L592.0,214.3 L593.0,213.8 L594.0,213.6 L595.0,214.2 L596.0,213.8 L597.0,214.1 L598.0,213.6 L599.0,213.7 L600.0,214.3 L601.0,214.2 L602.0,214.2 L603.0,214.1 L604.0,213.7 L605.0,214.1 L606.0,214.2 L607.0,214.2 L608.0,214.1 L609.0,214.1 L610.0,214.1 L611.0,214.1 L612.0,214.0 L613.0,213.6 L614.0,214.1 L615.0,214.0 L616.0,213.8 L617.0,213.7 L618.0,213.9 L619.0,213.7 L620.0,213.7 L621.0,213.4 L622.0,213.1 L623.0,213.3 L624.0,213.0 L625.0,213.2 L626.0,213.0 L627.0,213.1 L628.0,213.1 L629.0,213.1 L630.0,213.0 L631.0,213.0 L632.0,213.0 L633.0,212.8 L634.0,213.0 L635.0,212.6 L636.0,212.8 L637.0,213.2 L638.0,213.2 L639.0,213.4 L640.0,213.3 L641.0,213.2 L642.0,213.6 L643.0,213.4 L644.0,213.4 L645.0,213.7 L646.0,213.8 L647.0,213.9 L648.0,213.9 L649.0,214.0 L650.0,213.9 L651.0,213.7 L652.0,213.6 L653.0,213.9 L654.0,214.0 L655.0,214.2 L656.0,214.2 L657.0,214.1 L658.0,214.2 L659.0,214.1 L660.0,214.1 L661.0,213.8 L662.0,214.2 L663.0,214.2 L664.0,214.2 L665.0,214.3 L666.0,214.3 L667.0,214.1 L668.0,214.3 L669.0,214.1 L670.0,214.2" fill="none" stroke="#e8392b" stroke-width="0.9" stroke-linejoin="round"/>
<path d="M494.5,66.3 V214.45 H671" fill="none" stroke="#2f3778" stroke-width="1.1"/>
<text class="s b" x="0.7" y="278" font-size="24.5">B</text>
<text class="s" x="69.3" y="284.8" font-size="14.8" fill="#222" textLength="248.7" lengthAdjust="spacingAndGlyphs">The levels of <tspan class="i">SOD1</tspan> and <tspan class="i">SOD2</tspan> mRNA</text>
<text class="s" x="32" y="520" font-size="13.6" fill="#222" textLength="226" lengthAdjust="spacingAndGlyphs" transform="rotate(-90 32 520)">RNA fold-change, normalized to ACT1</text>
<defs><pattern id="chk" width="7.4" height="7.4" patternUnits="userSpaceOnUse" x="176.5" y="378.4"><rect width="7.4" height="7.4" fill="#000"/><rect width="3.7" height="3.7" fill="#fff"/><rect x="3.7" y="3.7" width="3.7" height="3.7" fill="#fff"/></pattern><pattern id="chk2" width="7.4" height="7.4" patternUnits="userSpaceOnUse" x="82.6" y="476.2"><rect width="7.4" height="7.4" fill="#000"/><rect width="3.7" height="3.7" fill="#fff"/><rect x="3.7" y="3.7" width="3.7" height="3.7" fill="#fff"/></pattern><pattern id="chkL" width="3.6" height="3.6" patternUnits="userSpaceOnUse" x="99.4" y="301.4"><rect width="3.6" height="3.6" fill="#000"/><rect width="1.8" height="1.8" fill="#fff"/><rect x="1.8" y="1.8" width="1.8" height="1.8" fill="#fff"/></pattern><pattern id="str" width="7.7" height="4" patternUnits="userSpaceOnUse" x="317.1" y="0"><rect width="7.7" height="4" fill="#fff"/><rect x="0" width="3.05" height="4" fill="#000"/></pattern><pattern id="str2" width="7.7" height="4" patternUnits="userSpaceOnUse" x="224.3" y="0"><rect width="7.7" height="4" fill="#fff"/><rect x="0" width="3.05" height="4" fill="#000"/></pattern><pattern id="strL" width="4.6" height="4" patternUnits="userSpaceOnUse" x="101.5" y="0"><rect width="4.6" height="4" fill="#fff"/><rect x="0" width="2.2" height="4" fill="#000"/></pattern></defs>
<path d="M72.8,293 V480.6" fill="none" stroke="#000" stroke-width="2.8"/>
<path d="M66,480.6 H353.6" fill="none" stroke="#000" stroke-width="2.8"/>
<text class="r b" x="63.6" y="488" font-size="22.6" text-anchor="end">0</text>
<path d="M66,449.6 H72.8" stroke="#000" stroke-width="2.8"/>
<text class="r b" x="63.6" y="456.97" font-size="22.6" text-anchor="end">5</text>
<path d="M66,418.5 H72.8" stroke="#000" stroke-width="2.8"/>
<text class="r b" x="63.6" y="425.94" font-size="22.6" text-anchor="end">10</text>
<path d="M66,387.5 H72.8" stroke="#000" stroke-width="2.8"/>
<text class="r b" x="63.6" y="394.91" font-size="22.6" text-anchor="end">15</text>
<path d="M66,356.5 H72.8" stroke="#000" stroke-width="2.8"/>
<text class="r b" x="63.6" y="363.88" font-size="22.6" text-anchor="end">20</text>
<path d="M66,325.5 H72.8" stroke="#000" stroke-width="2.8"/>
<text class="r b" x="63.6" y="332.85" font-size="22.6" text-anchor="end">25</text>
<path d="M66,294.4 H72.8" stroke="#000" stroke-width="2.8"/>
<text class="r b" x="63.6" y="301.82" font-size="22.6" text-anchor="end">30</text>
<path d="M95.5,480.6 V487" stroke="#000" stroke-width="2.6"/>
<path d="M141.6,480.6 V487" stroke="#000" stroke-width="2.6"/>
<path d="M188.4,480.6 V487" stroke="#000" stroke-width="2.6"/>
<path d="M235.2,480.6 V487" stroke="#000" stroke-width="2.6"/>
<path d="M281.8,480.6 V487" stroke="#000" stroke-width="2.6"/>
<path d="M328.4,480.6 V487" stroke="#000" stroke-width="2.6"/>
<rect x="98.1" y="300.1" width="14.7" height="9.3" fill="url(#chkL)" stroke="#000" stroke-width="2.4"/>
<text class="s i" x="121.9" y="310.6" font-size="12.4" fill="#111" textLength="29.2" lengthAdjust="spacingAndGlyphs">SOD1</text>
<rect x="98.1" y="316.2" width="14.7" height="8.3" fill="url(#strL)" stroke="#000" stroke-width="2.4"/>
<text class="s i" x="120.1" y="325.5" font-size="12.4" fill="#111" textLength="29.7" lengthAdjust="spacingAndGlyphs">SOD2</text>
<rect x="80.3" y="474.7" width="30.3" height="5.9" fill="url(#chk2)" stroke="#000" stroke-width="2.8"/>
<rect x="126.2" y="475.6" width="30.8" height="5.0" fill="url(#chk2)" stroke="#000" stroke-width="2.8"/>
<path d="M142,475 V472.4 M133.1,472.4 H150.9" fill="none" stroke="#000" stroke-width="2.8"/>
<rect x="172.8" y="374.6" width="31.4" height="106.0" fill="url(#chk)" stroke="#000" stroke-width="2.8"/>
<path d="M188.8,375 V367.2 M179.5,367.2 H198.10000000000002" fill="none" stroke="#000" stroke-width="2.8"/>
<rect x="220.3" y="474.7" width="30.3" height="5.9" fill="url(#str2)" stroke="#000" stroke-width="2.8"/>
<rect x="266.6" y="476.8" width="30.6" height="3.8" fill="url(#str2)" stroke="#000" stroke-width="2.8"/>
<path d="M281.8,476 V474.6 M272.90000000000003,474.6 H290.7" fill="none" stroke="#000" stroke-width="2.8"/>
<rect x="312.6" y="353.9" width="31.6" height="126.7" fill="url(#str)" stroke="#000" stroke-width="2.8"/>
<rect x="340.2" y="353" width="5" height="127" fill="#000"/>
<path d="M328.7,354 V328.6 M319.4,328.6 H338.0" fill="none" stroke="#000" stroke-width="2.8"/>
<path d="M139.9,462.4 V357.8 H189" fill="none" stroke="#000" stroke-width="1.25" stroke-dasharray="3,2.5"/>
<text class="s" x="152.9" y="350.8" font-size="8.1" fill="#111" textLength="29.3" lengthAdjust="spacingAndGlyphs">P&lt;0.001</text>
<path d="M278,430 V314.8 H327" fill="none" stroke="#000" stroke-width="1.25" stroke-dasharray="3,2.5"/>
<text class="s" x="291" y="307.3" font-size="8.1" fill="#111" textLength="24.9" lengthAdjust="spacingAndGlyphs">P&lt;0.01</text>
<text class="s" x="75.3" y="506.3" font-size="13.2" fill="#222" textLength="29.1" lengthAdjust="spacingAndGlyphs">pGAL</text>
<text class="s" x="89.85" y="516.2" font-size="13" fill="#222" text-anchor="middle">+</text>
<text class="s" x="75.3" y="526.9" font-size="13.2" fill="#222" textLength="30.1" lengthAdjust="spacingAndGlyphs">pGPD</text>
<text class="s" x="220.8" y="506.3" font-size="13.2" fill="#222" textLength="30.5" lengthAdjust="spacingAndGlyphs">pGAL</text>
<text class="s" x="236.05" y="516.2" font-size="13" fill="#222" text-anchor="middle">+</text>
<text class="s" x="220.8" y="526.9" font-size="13.2" fill="#222" textLength="31.5" lengthAdjust="spacingAndGlyphs">pGPD</text>
<text class="s" x="124.4" y="507.7" font-size="11" fill="#222" textLength="28" lengthAdjust="spacingAndGlyphs">pGPD</text>
<text class="s" x="124.4" y="519.3" font-size="11" fill="#222" textLength="30.7" lengthAdjust="spacingAndGlyphs">vector</text>
<text class="s" x="171.5" y="507.7" font-size="11" fill="#222" textLength="31.4" lengthAdjust="spacingAndGlyphs">pGPD:</text>
<text class="s i" x="171.5" y="519.3" font-size="11" fill="#222" textLength="26.4" lengthAdjust="spacingAndGlyphs">SOD1</text>
<text class="s" x="269.9" y="507.7" font-size="11" fill="#222" textLength="28" lengthAdjust="spacingAndGlyphs">pGPD</text>
<text class="s" x="269.9" y="519.3" font-size="11" fill="#222" textLength="31.3" lengthAdjust="spacingAndGlyphs">vector</text>
<text class="s" x="317.9" y="507.7" font-size="11" fill="#222" textLength="31.9" lengthAdjust="spacingAndGlyphs">pGPD:</text>
<text class="s i" x="317.9" y="519.3" font-size="11" fill="#222" textLength="26.3" lengthAdjust="spacingAndGlyphs">SOD2</text>
<path d="M127.4,524 H196.8 M272.7,524 H343.4" stroke="#000" stroke-width="1.4"/>
<text class="s" x="118.3" y="539.3" font-size="10.6" fill="#111" textLength="82.6" lengthAdjust="spacingAndGlyphs">pGAL:<tspan class="i">ATE1-GFP</tspan></text>
<text class="s" x="264.4" y="539.3" font-size="10.6" fill="#111" textLength="82.6" lengthAdjust="spacingAndGlyphs">pGAL:<tspan class="i">ATE1-GFP</tspan></text>
<text class="s b" x="398" y="278.2" font-size="24.5">C</text>
<text class="s i" x="495.4" y="280.3" font-size="12.6" fill="#111" textLength="94" lengthAdjust="spacingAndGlyphs" stroke="#111" stroke-width="0.2">pGAL:ATE1-GFP</text>
<path d="M453.2,283.8 H642.5" stroke="#6a6a6a" stroke-width="1.9"/>
<defs>
<filter id="bl" x="-30%" y="-60%" width="160%" height="220%"><feGaussianBlur stdDeviation="1.5"/></filter>
<filter id="bl2" x="-30%" y="-60%" width="160%" height="220%"><feGaussianBlur stdDeviation="2.4"/></filter>
<linearGradient id="g3" x1="0" y1="0" x2="0.3" y2="1"><stop offset="0" stop-color="#c6c6c6"/><stop offset="1" stop-color="#a4a4a4"/></linearGradient>
<clipPath id="c1"><rect x="441.6" y="315.8" width="68.7" height="22.4"/></clipPath>
<clipPath id="c2"><rect x="441.6" y="349.3" width="68.7" height="22.8"/></clipPath>
<clipPath id="c3"><rect x="579.3" y="319.5" width="69.1" height="22.8"/></clipPath>
<clipPath id="c4"><rect x="579.3" y="353.6" width="69.1" height="23.6"/></clipPath>
</defs>
<text class="s" x="442.5" y="300.4" font-size="10.2" fill="#1c1c1c" textLength="29.5" lengthAdjust="spacingAndGlyphs" stroke="#1c1c1c" stroke-width="0.18">pGPD</text>
<text class="s" x="442.5" y="312" font-size="10.2" fill="#1c1c1c" textLength="31.3" lengthAdjust="spacingAndGlyphs" stroke="#1c1c1c" stroke-width="0.18">vector</text>
<text class="s" x="484.2" y="300.4" font-size="10.2" fill="#1c1c1c" textLength="31.1" lengthAdjust="spacingAndGlyphs" stroke="#1c1c1c" stroke-width="0.18">pGPD:</text>
<text class="s i" x="484.2" y="312" font-size="10.2" fill="#1c1c1c" textLength="26.1" lengthAdjust="spacingAndGlyphs" stroke="#1c1c1c" stroke-width="0.18">SOD1</text>
<text class="s" x="580.2" y="301.2" font-size="10.2" fill="#1c1c1c" textLength="29.5" lengthAdjust="spacingAndGlyphs" stroke="#1c1c1c" stroke-width="0.18">pGPD</text>
<text class="s" x="580.2" y="312.7" font-size="10.2" fill="#1c1c1c" textLength="31.3" lengthAdjust="spacingAndGlyphs" stroke="#1c1c1c" stroke-width="0.18">vector</text>
<text class="s" x="621.7" y="301.2" font-size="10.2" fill="#1c1c1c" textLength="31.6" lengthAdjust="spacingAndGlyphs" stroke="#1c1c1c" stroke-width="0.18">pGPD:</text>
<text class="s i" x="621.7" y="312.7" font-size="10.2" fill="#1c1c1c" textLength="26.7" lengthAdjust="spacingAndGlyphs" stroke="#1c1c1c" stroke-width="0.18">SOD2</text>
<rect x="441.6" y="315.8" width="68.7" height="22.4" fill="#efefef"/>
<g clip-path="url(#c1)">
<ellipse cx="453.2" cy="329" rx="8.5" ry="3.8" fill="#505050" opacity="0.9" filter="url(#bl2)"/>
<ellipse cx="499.5" cy="327.8" rx="12" ry="6" fill="#333" opacity="0.65" filter="url(#bl2)"/>
<ellipse cx="499.7" cy="326.6" rx="10.6" ry="4.1" fill="#0a0a0a" opacity="1" filter="url(#bl)"/>
</g>
<rect x="441.6" y="315.8" width="68.7" height="22.4" fill="none" stroke="#8a8a8a" stroke-width="0.8" stroke-dasharray="4.5,2.5"/>
<rect x="441.6" y="349.3" width="68.7" height="22.8" fill="#ececec"/>
<g clip-path="url(#c2)">
<ellipse cx="454.5" cy="361.2" rx="11.5" ry="5.2" fill="#222" opacity="0.5" filter="url(#bl2)"/>
<ellipse cx="454.5" cy="361.2" rx="10.2" ry="4.1" fill="#080808" opacity="1" filter="url(#bl)"/>
<ellipse cx="499.3" cy="361" rx="11.5" ry="5.2" fill="#222" opacity="0.5" filter="url(#bl2)"/>
<ellipse cx="499.3" cy="361" rx="10.2" ry="4.1" fill="#080808" opacity="1" filter="url(#bl)"/>
</g>
<rect x="441.6" y="349.3" width="68.7" height="22.8" fill="none" stroke="#8a8a8a" stroke-width="0.8" stroke-dasharray="4.5,2.5"/>
<rect x="579.3" y="319.5" width="69.1" height="22.8" fill="url(#g3)"/>
<g clip-path="url(#c3)">
<ellipse cx="592.5" cy="331.5" rx="7" ry="3.5" fill="#777" opacity="0.5" filter="url(#bl2)"/>
<ellipse cx="635.2" cy="331.5" rx="11.5" ry="6.6" fill="#222" opacity="0.6" filter="url(#bl2)"/>
<ellipse cx="635.2" cy="331.5" rx="10.2" ry="5.6" fill="#030303" opacity="1" filter="url(#bl)"/>
</g>
<rect x="579.3" y="319.5" width="69.1" height="22.8" fill="none" stroke="#8a8a8a" stroke-width="0.8" stroke-dasharray="4.5,2.5"/>
<rect x="579.3" y="353.6" width="69.1" height="23.6" fill="#e6e6e6"/>
<g clip-path="url(#c4)">
<ellipse cx="592.4" cy="366.2" rx="11" ry="5.2" fill="#222" opacity="0.5" filter="url(#bl2)"/>
<ellipse cx="592.4" cy="366.2" rx="9.8" ry="4.1" fill="#080808" opacity="1" filter="url(#bl)"/>
<ellipse cx="637.5" cy="366.5" rx="9.5" ry="5.2" fill="#222" opacity="0.5" filter="url(#bl2)"/>
<ellipse cx="637.5" cy="366.5" rx="8.2" ry="4.1" fill="#080808" opacity="1" filter="url(#bl)"/>
<ellipse cx="615" cy="367" rx="5" ry="3" fill="#ccc" opacity="0.35" filter="url(#bl2)"/>
</g>
<rect x="579.3" y="353.6" width="69.1" height="23.6" fill="none" stroke="#8a8a8a" stroke-width="0.8" stroke-dasharray="4.5,2.5"/>
<text class="s" x="409.3" y="333.6" font-size="10.4" fill="#222" textLength="24.2" lengthAdjust="spacingAndGlyphs" stroke="#222" stroke-width="0.15">SOD1</text>
<text class="s" x="416.7" y="366.7" font-size="10.4" fill="#222" textLength="20.4" lengthAdjust="spacingAndGlyphs" stroke="#222" stroke-width="0.15">Pgk1</text>
<text class="s" x="548.1" y="336" font-size="10.4" fill="#222" textLength="25" lengthAdjust="spacingAndGlyphs" stroke="#222" stroke-width="0.15">SOD2</text>
<text class="s" x="550.4" y="367.7" font-size="10.4" fill="#222" textLength="21" lengthAdjust="spacingAndGlyphs" stroke="#222" stroke-width="0.15">Pgk1</text>
<text class="s b" x="511" y="338.7" font-size="6.8" fill="#333" textLength="24" lengthAdjust="spacingAndGlyphs">-15 kDa</text>
<text class="s b" x="511" y="352.6" font-size="6.8" fill="#333" textLength="24" lengthAdjust="spacingAndGlyphs">-50 kDa</text>
<text class="s b" x="648.8" y="322.5" font-size="6.8" fill="#333" textLength="24" lengthAdjust="spacingAndGlyphs">-25 kDa</text>
<text class="s b" x="648.8" y="357.6" font-size="6.8" fill="#333" textLength="24" lengthAdjust="spacingAndGlyphs">-50 kDa</text>
<path d="M442.7,404.7 V492.3 H504.7" fill="none" stroke="#333" stroke-width="1.1"/>
<path d="M439,492.3 H442.7" stroke="#333" stroke-width="1"/>
<text class="s" x="435.8" y="494.7" font-size="7" fill="#333" text-anchor="end">0</text>
<path d="M439,470.4 H442.7" stroke="#333" stroke-width="1"/>
<text class="s" x="435.8" y="472.8" font-size="7" fill="#333" text-anchor="end">1</text>
<path d="M439,448.7 H442.7" stroke="#333" stroke-width="1"/>
<text class="s" x="435.8" y="451.1" font-size="7" fill="#333" text-anchor="end">2</text>
<path d="M439,427 H442.7" stroke="#333" stroke-width="1"/>
<text class="s" x="435.8" y="429.4" font-size="7" fill="#333" text-anchor="end">3</text>
<path d="M439,405.1 H442.7" stroke="#333" stroke-width="1"/>
<text class="s" x="435.8" y="407.5" font-size="7" fill="#333" text-anchor="end">4</text>
<path d="M461.3,492.3 V495.3 M489.3,492.3 V495.3" stroke="#333" stroke-width="1"/>
<rect x="452.1" y="470.4" width="19.1" height="21.4" fill="#e9ebeb"/>
<rect x="480.4" y="436.7" width="18.8" height="55.1" fill="#98989c"/>
<circle cx="456.3" cy="470.4" r="1.35" fill="#111"/>
<circle cx="462" cy="470.4" r="1.35" fill="#111"/>
<circle cx="467.4" cy="470.4" r="1.35" fill="#111"/>
<rect x="482.90000000000003" y="428.0" width="2.8" height="2.8" fill="#111"/>
<rect x="488.40000000000003" y="430.6" width="2.8" height="2.8" fill="#111"/>
<rect x="488.40000000000003" y="447.3" width="2.8" height="2.8" fill="#111"/>
<path d="M489.8,430.3 V442.6 M485.4,430.3 H494.6 M485.4,442.6 H494.6" fill="none" stroke="#333" stroke-width="0.8"/>
<path d="M466.3,418.9 V407.6 H488.7 V418.9" fill="none" stroke="#222" stroke-width="0.9" stroke-dasharray="2,1.6"/>
<text class="s" x="465.7" y="405.8" font-size="8" fill="#333" textLength="24.5" lengthAdjust="spacingAndGlyphs">p&lt; 0.05</text>
<text class="s" x="425.4" y="481.3" font-size="10.8" fill="#222" textLength="57.3" lengthAdjust="spacingAndGlyphs" transform="rotate(-90 425.4 481.3)">Fold-Change</text>
<text class="s" x="442.7" y="511.6" font-size="11" fill="#1c1c1c" textLength="28.5" lengthAdjust="spacingAndGlyphs" stroke="#1c1c1c" stroke-width="0.18">pGPD</text>
<text class="s" x="442.7" y="523" font-size="11" fill="#1c1c1c" textLength="31.3" lengthAdjust="spacingAndGlyphs" stroke="#1c1c1c" stroke-width="0.18">vector</text>
<text class="s" x="479.3" y="511.6" font-size="11" fill="#1c1c1c" textLength="31.9" lengthAdjust="spacingAndGlyphs" stroke="#1c1c1c" stroke-width="0.18">pGPD:</text>
<text class="s i" x="479.3" y="523" font-size="11" fill="#1c1c1c" textLength="26.9" lengthAdjust="spacingAndGlyphs" stroke="#1c1c1c" stroke-width="0.18">SOD1</text>
<path d="M586.5,407.6 V492.7 H644.5" fill="none" stroke="#333" stroke-width="1.1"/>
<path d="M582.7,492.7 H586.5" stroke="#333" stroke-width="1"/>
<text class="s" x="581.4" y="495.1" font-size="7" fill="#333" text-anchor="end">0</text>
<path d="M582.7,475.9 H586.5" stroke="#333" stroke-width="1"/>
<text class="s" x="581.4" y="478.3" font-size="7" fill="#333" text-anchor="end">20</text>
<path d="M582.7,459 H586.5" stroke="#333" stroke-width="1"/>
<text class="s" x="581.4" y="461.4" font-size="7" fill="#333" text-anchor="end">40</text>
<path d="M582.7,442.1 H586.5" stroke="#333" stroke-width="1"/>
<text class="s" x="581.4" y="444.5" font-size="7" fill="#333" text-anchor="end">60</text>
<path d="M582.7,425.1 H586.5" stroke="#333" stroke-width="1"/>
<text class="s" x="581.4" y="427.5" font-size="7" fill="#333" text-anchor="end">80</text>
<path d="M582.7,408 H586.5" stroke="#333" stroke-width="1"/>
<text class="s" x="581.4" y="410.4" font-size="7" fill="#333" text-anchor="end">100</text>
<path d="M604,492.7 V495.7 M631.3,492.7 V495.7" stroke="#333" stroke-width="1"/>
<rect x="622.6" y="431.6" width="18.2" height="60.6" fill="#9a9a9e"/>
<circle cx="598.5" cy="492.2" r="1.35" fill="#111"/>
<circle cx="604.4" cy="492.2" r="1.35" fill="#111"/>
<circle cx="610.1" cy="492.2" r="1.35" fill="#111"/>
<rect x="629.9" y="416.0" width="2.8" height="2.8" fill="#111"/>
<rect x="624.0" y="437.70000000000005" width="2.8" height="2.8" fill="#111"/>
<rect x="635.9" y="436.8" width="2.8" height="2.8" fill="#111"/>
<path d="M631.3,424.4 V439.1 M627,424.4 H635.7 M627,439.1 H635.7" fill="none" stroke="#333" stroke-width="0.8"/>
<path d="M610.1,413.5 V404.3 H630.7 V413.5" fill="none" stroke="#222" stroke-width="0.9" stroke-dasharray="2,1.6"/>
<text class="s" x="607.9" y="402.5" font-size="8" fill="#333" textLength="24.5" lengthAdjust="spacingAndGlyphs">p&lt; 0.01</text>
<text class="s" x="569.2" y="481.3" font-size="10.8" fill="#222" textLength="57.3" lengthAdjust="spacingAndGlyphs" transform="rotate(-90 569.2 481.3)">Fold-Change</text>
<text class="s" x="581" y="510.9" font-size="11" fill="#1c1c1c" textLength="28" lengthAdjust="spacingAndGlyphs" stroke="#1c1c1c" stroke-width="0.18">pGPD</text>
<text class="s" x="581" y="522.5" font-size="11" fill="#1c1c1c" textLength="31" lengthAdjust="spacingAndGlyphs" stroke="#1c1c1c" stroke-width="0.18">vector</text>
<text class="s" x="621.9" y="510.9" font-size="11" fill="#1c1c1c" textLength="31.3" lengthAdjust="spacingAndGlyphs" stroke="#1c1c1c" stroke-width="0.18">pGPD:</text>
<text class="s i" x="621.9" y="522.5" font-size="11" fill="#1c1c1c" textLength="27" lengthAdjust="spacingAndGlyphs" stroke="#1c1c1c" stroke-width="0.18">SOD2</text>
<text class="s b" x="0.7" y="586" font-size="24.5">D</text>
<text class="s" x="93.8" y="587.8" font-size="11" fill="#222" textLength="29.8" lengthAdjust="spacingAndGlyphs">pGAL</text>
<text class="s" x="108.7" y="597.8" font-size="12" fill="#333" text-anchor="middle">+</text>
<text class="s" x="93.8" y="609" font-size="11" fill="#222" textLength="31.3" lengthAdjust="spacingAndGlyphs">pGPD</text>
<text class="s" x="344.7" y="587.8" font-size="11" fill="#222" textLength="31.1" lengthAdjust="spacingAndGlyphs">pGAL</text>
<text class="s" x="360.25" y="597.8" font-size="12" fill="#333" text-anchor="middle">+</text>
<text class="s" x="344.7" y="608.7" font-size="11" fill="#222" textLength="32.6" lengthAdjust="spacingAndGlyphs">pGPD</text>
<text class="s i" x="156.9" y="589.1" font-size="13" fill="#111" textLength="103" lengthAdjust="spacingAndGlyphs" stroke="#111" stroke-width="0.25">pGAL:ATE1-GFP</text>
<text class="s i" x="408" y="589.6" font-size="13" fill="#111" textLength="103.5" lengthAdjust="spacingAndGlyphs" stroke="#111" stroke-width="0.25">pGAL:ATE1-GFP</text>
<path d="M145.3,594.5 H291.7 M397,594.9 H543.1" stroke="#111" stroke-width="1.2"/>
<text class="s" x="148" y="611.3" font-size="14.2" textLength="39.4" lengthAdjust="spacingAndGlyphs">pGPD</text>
<text class="s i" x="197.4" y="611.3" font-size="13.2" textLength="42.7" lengthAdjust="spacingAndGlyphs" stroke="#000" stroke-width="0.25">+SOD1</text>
<text class="s i" x="255.7" y="611.3" font-size="13.2" textLength="43" lengthAdjust="spacingAndGlyphs" stroke="#000" stroke-width="0.25">+SOD2</text>
<text class="s" x="398.9" y="612" font-size="14.2" textLength="39.9" lengthAdjust="spacingAndGlyphs">pGPD</text>
<text class="s i" x="448.3" y="612" font-size="13.2" textLength="42.5" lengthAdjust="spacingAndGlyphs" stroke="#000" stroke-width="0.25">+SOD1</text>
<text class="s i" x="507.1" y="612" font-size="13.2" textLength="43.6" lengthAdjust="spacingAndGlyphs" stroke="#000" stroke-width="0.25">+SOD2</text>
<text class="s" x="42.4" y="633.5" font-size="9.8" fill="#111" textLength="21.9" lengthAdjust="spacingAndGlyphs" stroke="#111" stroke-width="0.25">#Cell</text>
<text class="s" x="38.8" y="662.5" font-size="13.2" fill="#111" textLength="19.7" lengthAdjust="spacingAndGlyphs" stroke="#111" stroke-width="0.2">x10</text>
<text class="s" x="59.6" y="652.7" font-size="9.2" fill="#111" stroke="#111" stroke-width="0.2">4</text>
<text class="s" x="38.8" y="701.2" font-size="13.2" fill="#111" textLength="19.7" lengthAdjust="spacingAndGlyphs" stroke="#111" stroke-width="0.2">x10</text>
<text class="s" x="59.6" y="691.4" font-size="9.2" fill="#111" stroke="#111" stroke-width="0.2">3</text>
<text class="s" x="38.8" y="740.2" font-size="13.2" fill="#111" textLength="19.7" lengthAdjust="spacingAndGlyphs" stroke="#111" stroke-width="0.2">x10</text>
<text class="s" x="59.6" y="730.4" font-size="9.2" fill="#111" stroke="#111" stroke-width="0.2">2</text>
<text class="s" x="38.8" y="780" font-size="13.2" fill="#111" textLength="19.7" lengthAdjust="spacingAndGlyphs" stroke="#111" stroke-width="0.2">x10</text>
<text class="s" x="156.8" y="829.6" font-size="12" fill="#111" textLength="59.6" lengthAdjust="spacingAndGlyphs">+ Glucose</text>
<text class="s" x="411.1" y="829.5" font-size="12" fill="#111" textLength="70.2" lengthAdjust="spacingAndGlyphs">+ Galactose</text>
<defs>
<linearGradient id="p1" x1="0" y1="0" x2="1" y2="0.2"><stop offset="0" stop-color="#7f7f7f"/><stop offset="0.5" stop-color="#787878"/><stop offset="1" stop-color="#717173"/></linearGradient><linearGradient id="p1v" x1="0" y1="0" x2="0" y2="1"><stop offset="0" stop-color="#fff" stop-opacity="0.1"/><stop offset="0.04" stop-color="#fff" stop-opacity="0.03"/><stop offset="0.5" stop-color="#000" stop-opacity="0"/><stop offset="1" stop-color="#000" stop-opacity="0.04"/></linearGradient>
<linearGradient id="p2" x1="0" y1="0" x2="0.15" y2="1"><stop offset="0" stop-color="#707072"/><stop offset="0.06" stop-color="#68686a"/><stop offset="0.5" stop-color="#626264"/><stop offset="1" stop-color="#5b5b5d"/></linearGradient><linearGradient id="p2h" x1="0" y1="0" x2="1" y2="0"><stop offset="0" stop-color="#fff" stop-opacity="0.07"/><stop offset="0.15" stop-color="#fff" stop-opacity="0"/></linearGradient>
<radialGradient id="cA"><stop offset="0" stop-color="#c5c5c5"/><stop offset="0.8" stop-color="#c7c7c7"/><stop offset="0.93" stop-color="#d3d3d3"/><stop offset="1" stop-color="#b8b8b8"/></radialGradient>
<radialGradient id="cB"><stop offset="0" stop-color="#cdcdcd"/><stop offset="0.78" stop-color="#cfcfcf"/><stop offset="0.92" stop-color="#e6e6e6"/><stop offset="1" stop-color="#c4c4c4"/></radialGradient>
<radialGradient id="cC"><stop offset="0" stop-color="#b8b8b8"/><stop offset="0.82" stop-color="#bababa"/><stop offset="0.94" stop-color="#cbcbcb"/><stop offset="1" stop-color="#a9a9a9"/></radialGradient>
<radialGradient id="cW"><stop offset="0" stop-color="#dedede"/><stop offset="0.7" stop-color="#e4e4e4"/><stop offset="0.9" stop-color="#f4f4f4"/><stop offset="1" stop-color="#c8c8c8"/></radialGradient>
<filter id="sf"><feGaussianBlur stdDeviation="0.5"/></filter>
<filter id="rg" x="0" y="0" width="100%" height="100%"><feTurbulence type="fractalNoise" baseFrequency="0.07" numOctaves="1" seed="4" result="n"/><feDisplacementMap in="SourceGraphic" in2="n" scale="6" xChannelSelector="R" yChannelSelector="G" result="d"/><feGaussianBlur in="d" stdDeviation="0.55"/></filter>
<radialGradient id="cD"><stop offset="0" stop-color="#acacac"/><stop offset="0.8" stop-color="#b0b0b0"/><stop offset="0.93" stop-color="#cfcfcf"/><stop offset="1" stop-color="#b0b0b0"/></radialGradient>
<clipPath id="pc1"><rect x="73.1" y="616.4" width="227.7" height="196.3"/></clipPath>
<clipPath id="pc2"><rect x="330.8" y="616.8" width="227.6" height="194.8"/></clipPath>
</defs>
<rect x="73.1" y="616.4" width="227.7" height="196.3" fill="url(#p1)"/>
<rect x="73.1" y="616.4" width="227.7" height="196.3" fill="url(#p1v)"/>
<g clip-path="url(#pc1)">
<path d="M72,785.5 L96,813" stroke="#9c9c9c" stroke-width="1.6" opacity="0.8" filter="url(#sf)"/>
<path d="M72,792 L90,813" stroke="#8c8c8c" stroke-width="3" opacity="0.5" filter="url(#sf)"/>
<g filter="url(#rg)" transform="translate(0.8,0.8)">
<circle cx="106.7" cy="647.5" r="17.3" fill="url(#cA)"/>
<circle cx="164.4" cy="647.8" r="17.3" fill="url(#cA)"/>
<circle cx="217.8" cy="647.8" r="18.2" fill="url(#cB)"/>
<circle cx="270.2" cy="647.8" r="18.2" fill="url(#cB)"/>
<circle cx="106.5" cy="692.3" r="17.3" fill="url(#cC)"/>
<g fill="#9a9a9a" opacity="0.8"><circle cx="95.9" cy="695.6" r="0.9"/><circle cx="96.2" cy="694.6" r="0.7"/><circle cx="110.7" cy="702.0" r="0.8"/><circle cx="107.7" cy="687.9" r="0.6"/><circle cx="117.7" cy="699.5" r="0.8"/><circle cx="120.7" cy="696.1" r="0.9"/><circle cx="99.9" cy="682.7" r="0.6"/><circle cx="117.2" cy="693.3" r="0.5"/><circle cx="109.2" cy="699.1" r="0.5"/><circle cx="96.9" cy="694.5" r="0.8"/><circle cx="94.7" cy="690.9" r="0.7"/><circle cx="101.3" cy="683.8" r="0.6"/><circle cx="121.3" cy="692.1" r="0.8"/><circle cx="104.3" cy="684.3" r="0.6"/><circle cx="105.5" cy="696.1" r="0.8"/><circle cx="95.5" cy="700.3" r="0.7"/><circle cx="119.7" cy="688.7" r="0.5"/><circle cx="110.0" cy="706.0" r="0.7"/><circle cx="115.8" cy="691.2" r="0.5"/><circle cx="97.5" cy="682.8" r="0.6"/><circle cx="113.8" cy="696.7" r="0.9"/><circle cx="106.8" cy="687.2" r="0.6"/><circle cx="109.4" cy="694.4" r="0.8"/><circle cx="111.4" cy="702.2" r="0.7"/><circle cx="111.1" cy="704.1" r="0.6"/><circle cx="103.4" cy="688.3" r="0.7"/><circle cx="108.3" cy="699.8" r="0.9"/><circle cx="109.2" cy="684.6" r="0.9"/><circle cx="108.8" cy="701.3" r="0.8"/><circle cx="103.6" cy="688.7" r="0.9"/><circle cx="108.2" cy="699.6" r="0.8"/><circle cx="102.7" cy="699.4" r="0.5"/><circle cx="116.0" cy="698.4" r="0.6"/><circle cx="99.2" cy="686.9" r="0.7"/><circle cx="116.5" cy="689.7" r="0.7"/><circle cx="110.7" cy="687.6" r="0.6"/><circle cx="117.7" cy="685.0" r="0.6"/><circle cx="111.2" cy="704.1" r="0.9"/><circle cx="111.3" cy="705.9" r="0.9"/><circle cx="98.9" cy="686.5" r="0.5"/><circle cx="120.6" cy="695.8" r="0.6"/><circle cx="104.4" cy="685.1" r="0.8"/><circle cx="99.9" cy="687.7" r="0.6"/><circle cx="105.8" cy="688.5" r="0.6"/><circle cx="93.8" cy="687.3" r="0.7"/><circle cx="103.8" cy="706.2" r="0.6"/><circle cx="114.1" cy="693.1" r="0.7"/><circle cx="112.3" cy="694.6" r="0.6"/><circle cx="101.7" cy="689.9" r="0.6"/><circle cx="117.8" cy="683.0" r="0.8"/><circle cx="102.4" cy="681.7" r="0.6"/><circle cx="108.4" cy="692.7" r="0.9"/><circle cx="102.1" cy="678.5" r="0.5"/><circle cx="99.8" cy="684.5" r="0.8"/><circle cx="100.3" cy="705.7" r="0.5"/><circle cx="94.3" cy="688.7" r="0.9"/><circle cx="105.5" cy="679.9" r="0.8"/><circle cx="114.1" cy="687.8" r="0.8"/><circle cx="117.7" cy="684.2" r="0.7"/><circle cx="110.0" cy="679.0" r="0.7"/></g>
<g fill="#d2d2d2" opacity="0.8"><circle cx="99.8" cy="685.6" r="0.7"/><circle cx="103.1" cy="689.6" r="0.8"/><circle cx="120.8" cy="691.7" r="0.8"/><circle cx="96.5" cy="700.8" r="0.7"/><circle cx="93.5" cy="697.4" r="0.5"/><circle cx="106.5" cy="689.7" r="0.7"/><circle cx="99.2" cy="693.2" r="0.8"/><circle cx="94.5" cy="692.5" r="0.9"/><circle cx="106.4" cy="693.9" r="0.6"/><circle cx="103.5" cy="686.1" r="0.6"/><circle cx="116.8" cy="685.4" r="0.7"/><circle cx="113.3" cy="686.8" r="0.8"/><circle cx="109.7" cy="701.8" r="0.8"/><circle cx="118.8" cy="684.9" r="0.7"/><circle cx="99.0" cy="688.0" r="0.6"/><circle cx="92.5" cy="692.6" r="0.8"/><circle cx="102.9" cy="677.8" r="0.6"/><circle cx="111.5" cy="701.3" r="0.6"/><circle cx="108.7" cy="701.9" r="0.8"/><circle cx="97.9" cy="692.6" r="0.8"/><circle cx="116.7" cy="691.1" r="0.5"/><circle cx="120.5" cy="695.1" r="0.5"/><circle cx="103.5" cy="681.1" r="0.6"/><circle cx="107.0" cy="690.3" r="0.6"/><circle cx="104.2" cy="693.0" r="0.8"/><circle cx="107.0" cy="698.0" r="0.5"/><circle cx="99.5" cy="684.9" r="0.8"/><circle cx="98.8" cy="680.9" r="0.9"/><circle cx="103.8" cy="686.0" r="0.7"/><circle cx="107.2" cy="693.7" r="0.7"/><circle cx="105.1" cy="686.0" r="0.6"/><circle cx="99.3" cy="702.8" r="0.7"/><circle cx="96.5" cy="683.5" r="0.7"/><circle cx="110.3" cy="678.2" r="0.5"/><circle cx="118.4" cy="687.0" r="0.6"/><circle cx="94.9" cy="695.8" r="0.9"/><circle cx="98.2" cy="700.4" r="0.9"/><circle cx="110.8" cy="678.1" r="0.7"/><circle cx="102.5" cy="686.7" r="0.8"/><circle cx="111.6" cy="681.2" r="0.8"/><circle cx="109.8" cy="706.4" r="0.9"/><circle cx="117.6" cy="690.7" r="0.8"/><circle cx="100.3" cy="705.5" r="0.8"/><circle cx="103.9" cy="695.9" r="0.7"/><circle cx="93.8" cy="688.1" r="0.7"/><circle cx="120.0" cy="694.7" r="0.5"/><circle cx="108.5" cy="686.2" r="0.6"/><circle cx="107.9" cy="686.7" r="0.6"/><circle cx="93.6" cy="691.0" r="0.8"/><circle cx="101.0" cy="678.5" r="0.7"/></g>
<circle cx="164.4" cy="693.2" r="17.3" fill="url(#cC)"/>
<g fill="#9a9a9a" opacity="0.8"><circle cx="168.5" cy="691.8" r="0.6"/><circle cx="156.5" cy="691.9" r="0.8"/><circle cx="157.5" cy="685.0" r="0.8"/><circle cx="156.7" cy="690.2" r="0.7"/><circle cx="172.3" cy="681.6" r="0.6"/><circle cx="173.0" cy="681.5" r="0.7"/><circle cx="158.5" cy="690.3" r="0.7"/><circle cx="152.9" cy="693.0" r="0.5"/><circle cx="174.8" cy="691.2" r="0.7"/><circle cx="167.9" cy="682.7" r="0.7"/><circle cx="163.0" cy="689.7" r="0.7"/><circle cx="152.0" cy="700.7" r="0.9"/><circle cx="163.2" cy="703.3" r="0.6"/><circle cx="152.2" cy="698.6" r="0.9"/><circle cx="156.2" cy="694.4" r="0.6"/><circle cx="153.9" cy="683.6" r="0.6"/><circle cx="164.8" cy="691.0" r="0.6"/><circle cx="166.1" cy="705.3" r="0.6"/><circle cx="157.2" cy="702.4" r="0.5"/><circle cx="163.8" cy="688.1" r="0.7"/><circle cx="164.4" cy="699.8" r="0.7"/><circle cx="156.0" cy="696.7" r="0.7"/><circle cx="158.6" cy="692.1" r="0.6"/><circle cx="156.4" cy="684.5" r="0.7"/><circle cx="171.3" cy="683.9" r="0.8"/><circle cx="165.8" cy="705.9" r="0.8"/><circle cx="171.2" cy="688.4" r="0.6"/><circle cx="170.5" cy="690.0" r="0.9"/><circle cx="168.5" cy="689.7" r="0.6"/><circle cx="163.3" cy="685.7" r="0.5"/><circle cx="169.1" cy="684.8" r="0.8"/><circle cx="171.0" cy="699.9" r="0.8"/><circle cx="171.0" cy="693.9" r="0.8"/><circle cx="176.8" cy="685.5" r="0.5"/><circle cx="151.5" cy="692.7" r="0.7"/><circle cx="161.9" cy="687.3" r="0.5"/><circle cx="166.6" cy="695.0" r="0.7"/><circle cx="153.3" cy="692.2" r="0.6"/><circle cx="167.1" cy="699.3" r="0.8"/><circle cx="178.6" cy="692.3" r="0.5"/><circle cx="177.8" cy="698.7" r="0.7"/><circle cx="165.2" cy="684.8" r="0.7"/><circle cx="154.7" cy="692.3" r="0.7"/><circle cx="176.7" cy="694.2" r="0.8"/><circle cx="168.6" cy="702.3" r="0.8"/><circle cx="159.0" cy="696.9" r="0.6"/><circle cx="162.6" cy="693.1" r="0.9"/><circle cx="168.4" cy="681.4" r="0.8"/><circle cx="157.9" cy="686.4" r="0.7"/><circle cx="149.7" cy="692.8" r="0.8"/><circle cx="163.7" cy="707.3" r="0.8"/><circle cx="166.7" cy="680.0" r="0.7"/><circle cx="175.5" cy="684.8" r="0.8"/><circle cx="165.8" cy="680.3" r="0.7"/><circle cx="163.7" cy="689.3" r="0.6"/><circle cx="162.9" cy="693.5" r="0.6"/><circle cx="156.9" cy="684.3" r="0.6"/><circle cx="175.8" cy="689.1" r="0.6"/><circle cx="158.4" cy="683.8" r="0.7"/><circle cx="153.0" cy="702.7" r="0.8"/></g>
<g fill="#d2d2d2" opacity="0.8"><circle cx="160.4" cy="680.5" r="0.9"/><circle cx="176.3" cy="694.9" r="0.8"/><circle cx="164.0" cy="702.9" r="0.5"/><circle cx="167.6" cy="702.0" r="0.5"/><circle cx="164.3" cy="707.8" r="0.7"/><circle cx="149.4" cy="692.5" r="0.7"/><circle cx="176.6" cy="692.8" r="0.8"/><circle cx="174.9" cy="698.6" r="0.8"/><circle cx="178.6" cy="697.3" r="0.6"/><circle cx="158.2" cy="694.3" r="0.7"/><circle cx="161.6" cy="690.8" r="0.9"/><circle cx="154.6" cy="698.5" r="0.7"/><circle cx="159.0" cy="699.3" r="0.8"/><circle cx="156.8" cy="690.2" r="0.8"/><circle cx="163.9" cy="694.9" r="0.6"/><circle cx="170.2" cy="694.8" r="0.8"/><circle cx="153.2" cy="702.4" r="0.8"/><circle cx="178.9" cy="697.9" r="0.9"/><circle cx="177.4" cy="699.7" r="0.7"/><circle cx="149.5" cy="695.3" r="0.6"/><circle cx="149.7" cy="691.0" r="0.8"/><circle cx="149.6" cy="696.2" r="0.8"/><circle cx="160.3" cy="690.1" r="0.7"/><circle cx="157.8" cy="695.1" r="0.5"/><circle cx="159.1" cy="692.3" r="0.7"/><circle cx="159.3" cy="684.2" r="0.6"/><circle cx="155.8" cy="688.3" r="0.8"/><circle cx="149.4" cy="690.3" r="0.9"/><circle cx="163.7" cy="685.8" r="0.5"/><circle cx="175.0" cy="684.7" r="0.7"/><circle cx="159.3" cy="699.4" r="0.8"/><circle cx="153.6" cy="688.5" r="0.8"/><circle cx="164.5" cy="686.5" r="0.6"/><circle cx="178.9" cy="691.3" r="0.9"/><circle cx="168.1" cy="694.1" r="0.6"/><circle cx="153.6" cy="698.7" r="0.5"/><circle cx="160.4" cy="692.1" r="0.5"/><circle cx="159.3" cy="683.0" r="0.8"/><circle cx="157.0" cy="700.8" r="0.6"/><circle cx="157.1" cy="704.2" r="0.8"/><circle cx="169.1" cy="695.6" r="0.8"/><circle cx="154.8" cy="683.8" r="0.6"/><circle cx="157.5" cy="696.8" r="0.8"/><circle cx="156.0" cy="702.3" r="0.9"/><circle cx="159.2" cy="703.3" r="0.8"/><circle cx="173.2" cy="688.4" r="0.6"/><circle cx="176.1" cy="701.4" r="0.5"/><circle cx="174.4" cy="698.9" r="0.7"/><circle cx="161.1" cy="685.5" r="0.8"/><circle cx="170.7" cy="696.5" r="0.8"/></g>
<circle cx="222" cy="701.5" r="18.4" fill="url(#cD)"/>
<g fill="#9a9a9a" opacity="0.8"><circle cx="229.6" cy="705.8" r="0.8"/><circle cx="219.1" cy="693.6" r="0.6"/><circle cx="213.5" cy="712.1" r="0.6"/><circle cx="231.9" cy="710.5" r="0.7"/><circle cx="235.4" cy="694.0" r="0.9"/><circle cx="208.8" cy="706.9" r="0.6"/><circle cx="217.9" cy="710.7" r="0.9"/><circle cx="228.3" cy="696.6" r="0.6"/><circle cx="215.6" cy="708.7" r="0.7"/><circle cx="216.7" cy="706.1" r="0.7"/><circle cx="225.4" cy="690.3" r="0.8"/><circle cx="215.8" cy="698.9" r="0.8"/><circle cx="228.2" cy="695.8" r="0.5"/><circle cx="210.3" cy="700.3" r="0.7"/><circle cx="234.5" cy="698.8" r="0.8"/><circle cx="232.8" cy="706.1" r="0.8"/><circle cx="225.9" cy="703.8" r="0.8"/><circle cx="225.7" cy="698.8" r="0.8"/><circle cx="230.5" cy="712.3" r="0.8"/><circle cx="222.2" cy="709.0" r="0.8"/><circle cx="208.2" cy="699.6" r="0.7"/><circle cx="213.8" cy="714.8" r="0.8"/><circle cx="210.4" cy="702.0" r="0.8"/><circle cx="218.0" cy="686.8" r="0.7"/><circle cx="228.0" cy="690.0" r="0.8"/><circle cx="227.0" cy="687.9" r="0.9"/><circle cx="234.3" cy="698.2" r="0.7"/><circle cx="218.5" cy="687.7" r="0.7"/><circle cx="216.7" cy="704.4" r="0.8"/><circle cx="231.7" cy="700.9" r="0.6"/><circle cx="224.9" cy="711.4" r="0.6"/><circle cx="225.8" cy="700.8" r="0.6"/><circle cx="231.6" cy="710.0" r="0.8"/><circle cx="223.7" cy="705.1" r="0.7"/><circle cx="208.9" cy="693.9" r="0.5"/><circle cx="227.3" cy="705.8" r="0.6"/><circle cx="223.2" cy="714.9" r="0.7"/><circle cx="223.1" cy="708.2" r="0.6"/><circle cx="228.5" cy="713.7" r="0.6"/><circle cx="208.3" cy="697.2" r="0.7"/><circle cx="221.0" cy="716.4" r="0.9"/><circle cx="215.6" cy="711.3" r="0.9"/><circle cx="214.6" cy="702.3" r="0.5"/><circle cx="235.5" cy="696.9" r="0.7"/><circle cx="210.8" cy="699.5" r="0.6"/><circle cx="234.9" cy="700.7" r="0.6"/><circle cx="232.9" cy="702.2" r="0.6"/><circle cx="225.9" cy="688.6" r="0.7"/><circle cx="225.5" cy="706.8" r="0.6"/><circle cx="221.1" cy="716.3" r="0.7"/><circle cx="211.7" cy="689.5" r="0.6"/><circle cx="216.0" cy="700.2" r="0.8"/><circle cx="236.4" cy="701.6" r="0.8"/><circle cx="224.0" cy="697.4" r="0.6"/><circle cx="221.0" cy="696.7" r="0.7"/><circle cx="206.8" cy="704.5" r="0.7"/><circle cx="227.5" cy="694.7" r="0.8"/><circle cx="208.8" cy="709.1" r="0.5"/><circle cx="225.3" cy="695.1" r="0.7"/><circle cx="215.8" cy="700.5" r="0.8"/></g>
<g fill="#d2d2d2" opacity="0.8"><circle cx="218.6" cy="710.0" r="0.5"/><circle cx="218.2" cy="712.0" r="0.8"/><circle cx="213.4" cy="712.0" r="0.5"/><circle cx="213.2" cy="708.4" r="0.9"/><circle cx="228.4" cy="689.9" r="0.5"/><circle cx="212.1" cy="711.1" r="0.6"/><circle cx="211.8" cy="697.1" r="0.5"/><circle cx="236.6" cy="700.7" r="0.6"/><circle cx="215.4" cy="695.6" r="0.7"/><circle cx="213.3" cy="699.3" r="0.6"/><circle cx="211.6" cy="709.9" r="0.6"/><circle cx="226.3" cy="714.8" r="0.6"/><circle cx="233.6" cy="697.3" r="0.8"/><circle cx="214.7" cy="714.5" r="0.5"/><circle cx="225.2" cy="705.4" r="0.8"/><circle cx="220.2" cy="694.8" r="0.7"/><circle cx="228.6" cy="690.7" r="0.5"/><circle cx="223.0" cy="707.9" r="0.5"/><circle cx="218.3" cy="703.9" r="0.9"/><circle cx="211.5" cy="706.7" r="0.8"/><circle cx="223.6" cy="686.7" r="0.7"/><circle cx="216.8" cy="710.7" r="0.5"/><circle cx="210.9" cy="709.5" r="0.9"/><circle cx="225.3" cy="688.6" r="0.7"/><circle cx="231.4" cy="702.6" r="0.6"/><circle cx="218.9" cy="697.2" r="0.7"/><circle cx="207.5" cy="700.6" r="0.8"/><circle cx="217.0" cy="697.3" r="0.8"/><circle cx="232.0" cy="694.5" r="0.6"/><circle cx="215.8" cy="701.5" r="0.8"/><circle cx="233.7" cy="700.5" r="0.8"/><circle cx="225.7" cy="695.2" r="0.9"/><circle cx="216.9" cy="696.3" r="0.5"/><circle cx="222.4" cy="713.9" r="0.8"/><circle cx="214.5" cy="715.4" r="0.6"/><circle cx="216.4" cy="702.8" r="0.9"/><circle cx="232.3" cy="713.2" r="0.7"/><circle cx="210.6" cy="696.9" r="0.6"/><circle cx="235.8" cy="692.7" r="0.8"/><circle cx="217.4" cy="698.1" r="0.8"/><circle cx="218.3" cy="716.6" r="0.6"/><circle cx="208.6" cy="694.8" r="0.6"/><circle cx="217.7" cy="700.2" r="0.5"/><circle cx="228.9" cy="716.2" r="0.9"/><circle cx="217.0" cy="693.9" r="0.8"/><circle cx="221.2" cy="691.4" r="0.7"/><circle cx="222.7" cy="699.5" r="0.6"/><circle cx="215.9" cy="702.7" r="0.7"/><circle cx="215.8" cy="698.6" r="0.7"/><circle cx="220.9" cy="713.8" r="0.6"/></g>
<circle cx="272.5" cy="703" r="17.8" fill="url(#cD)"/>
<g fill="#9a9a9a" opacity="0.8"><circle cx="270.6" cy="700.7" r="0.8"/><circle cx="281.7" cy="714.8" r="0.7"/><circle cx="262.9" cy="704.8" r="0.7"/><circle cx="267.5" cy="690.6" r="0.8"/><circle cx="257.3" cy="704.4" r="0.8"/><circle cx="278.5" cy="695.3" r="0.7"/><circle cx="259.2" cy="697.1" r="0.7"/><circle cx="262.6" cy="701.4" r="0.9"/><circle cx="271.0" cy="706.2" r="0.8"/><circle cx="283.1" cy="695.3" r="0.7"/><circle cx="272.6" cy="694.6" r="0.7"/><circle cx="277.4" cy="705.3" r="0.7"/><circle cx="262.9" cy="702.8" r="0.5"/><circle cx="268.7" cy="692.6" r="0.6"/><circle cx="269.2" cy="712.0" r="0.6"/><circle cx="285.8" cy="709.1" r="0.9"/><circle cx="265.3" cy="690.7" r="0.7"/><circle cx="275.0" cy="696.2" r="0.8"/><circle cx="259.2" cy="697.1" r="0.5"/><circle cx="273.9" cy="697.8" r="0.7"/><circle cx="272.9" cy="702.9" r="0.6"/><circle cx="269.8" cy="711.3" r="0.5"/><circle cx="283.4" cy="694.5" r="0.7"/><circle cx="265.2" cy="712.2" r="0.5"/><circle cx="286.7" cy="705.8" r="0.6"/><circle cx="257.7" cy="703.1" r="0.9"/><circle cx="265.6" cy="704.2" r="0.6"/><circle cx="285.3" cy="696.2" r="0.6"/><circle cx="277.3" cy="695.2" r="0.7"/><circle cx="279.3" cy="715.7" r="0.9"/><circle cx="276.1" cy="714.6" r="0.6"/><circle cx="275.0" cy="700.7" r="0.5"/><circle cx="271.2" cy="694.5" r="0.9"/><circle cx="281.3" cy="693.6" r="0.6"/><circle cx="267.6" cy="689.0" r="0.7"/><circle cx="278.9" cy="706.4" r="0.6"/><circle cx="270.8" cy="696.4" r="0.6"/><circle cx="273.6" cy="715.4" r="0.8"/><circle cx="263.8" cy="711.9" r="0.9"/><circle cx="266.3" cy="699.1" r="0.6"/><circle cx="283.7" cy="697.4" r="0.6"/><circle cx="269.6" cy="699.5" r="0.9"/><circle cx="262.2" cy="707.1" r="0.7"/><circle cx="283.9" cy="706.3" r="0.6"/><circle cx="272.4" cy="716.7" r="0.5"/><circle cx="269.6" cy="716.0" r="0.6"/><circle cx="270.4" cy="714.1" r="0.6"/><circle cx="284.6" cy="693.8" r="0.5"/><circle cx="259.6" cy="706.2" r="0.7"/><circle cx="282.3" cy="698.3" r="0.6"/><circle cx="261.0" cy="698.8" r="0.6"/><circle cx="265.1" cy="691.6" r="0.7"/><circle cx="258.4" cy="702.5" r="0.8"/><circle cx="257.7" cy="701.1" r="0.6"/><circle cx="273.7" cy="696.9" r="0.7"/><circle cx="273.4" cy="713.1" r="0.8"/><circle cx="275.6" cy="689.7" r="0.6"/><circle cx="265.3" cy="703.5" r="0.7"/><circle cx="269.6" cy="703.0" r="0.7"/><circle cx="270.0" cy="691.7" r="0.8"/></g>
<g fill="#d2d2d2" opacity="0.8"><circle cx="275.1" cy="708.6" r="0.5"/><circle cx="262.1" cy="703.3" r="0.7"/><circle cx="271.4" cy="717.1" r="0.5"/><circle cx="282.5" cy="696.4" r="0.7"/><circle cx="274.5" cy="695.6" r="0.6"/><circle cx="271.3" cy="706.0" r="0.6"/><circle cx="264.2" cy="695.1" r="0.6"/><circle cx="268.5" cy="700.5" r="0.8"/><circle cx="276.3" cy="710.0" r="0.6"/><circle cx="267.3" cy="689.6" r="0.8"/><circle cx="281.9" cy="706.8" r="0.6"/><circle cx="275.8" cy="718.2" r="0.5"/><circle cx="258.7" cy="703.9" r="0.9"/><circle cx="279.1" cy="711.4" r="0.8"/><circle cx="280.0" cy="704.9" r="0.9"/><circle cx="278.7" cy="710.7" r="0.6"/><circle cx="268.6" cy="705.0" r="0.5"/><circle cx="286.3" cy="702.7" r="0.8"/><circle cx="273.5" cy="710.9" r="0.7"/><circle cx="273.1" cy="713.7" r="0.9"/><circle cx="266.5" cy="709.9" r="0.9"/><circle cx="270.1" cy="701.0" r="0.7"/><circle cx="270.2" cy="699.9" r="0.6"/><circle cx="267.5" cy="689.2" r="0.7"/><circle cx="280.6" cy="696.0" r="0.7"/><circle cx="277.9" cy="694.9" r="0.8"/><circle cx="274.5" cy="712.1" r="0.6"/><circle cx="266.4" cy="701.0" r="0.6"/><circle cx="274.9" cy="713.5" r="0.6"/><circle cx="257.6" cy="708.1" r="0.8"/><circle cx="277.1" cy="697.6" r="0.7"/><circle cx="284.3" cy="708.8" r="0.6"/><circle cx="272.2" cy="705.1" r="0.6"/><circle cx="271.7" cy="712.9" r="0.9"/><circle cx="270.7" cy="695.0" r="0.6"/><circle cx="281.2" cy="715.6" r="0.6"/><circle cx="273.8" cy="689.6" r="0.9"/><circle cx="281.4" cy="704.1" r="0.7"/><circle cx="285.4" cy="710.4" r="0.6"/><circle cx="274.0" cy="691.7" r="0.5"/><circle cx="266.4" cy="707.8" r="0.5"/><circle cx="279.6" cy="712.9" r="0.5"/><circle cx="268.6" cy="712.5" r="0.7"/><circle cx="281.2" cy="713.0" r="0.6"/><circle cx="270.5" cy="690.3" r="0.6"/><circle cx="274.8" cy="711.0" r="0.8"/><circle cx="264.4" cy="708.5" r="0.8"/><circle cx="273.8" cy="711.4" r="0.6"/><circle cx="273.2" cy="706.1" r="0.5"/><circle cx="264.4" cy="694.3" r="0.8"/></g>
</g><g filter="url(#sf)">
<circle cx="107.6" cy="736.4" r="15.8" fill="#909090" opacity="0.6"/>
<g fill="#cfcfcf" opacity="1"><circle cx="116.4" cy="735.0" r="1.0"/><circle cx="114.2" cy="732.7" r="1.0"/><circle cx="99.6" cy="722.6" r="1.1"/><circle cx="108.9" cy="749.3" r="0.7"/><circle cx="98.4" cy="740.9" r="0.7"/><circle cx="100.7" cy="742.6" r="0.9"/><circle cx="106.4" cy="742.8" r="0.9"/><circle cx="101.0" cy="737.4" r="1.0"/><circle cx="107.9" cy="741.4" r="0.9"/><circle cx="102.0" cy="739.4" r="1.0"/><circle cx="104.0" cy="724.8" r="1.0"/><circle cx="117.7" cy="737.9" r="0.9"/><circle cx="117.2" cy="740.4" r="0.7"/><circle cx="95.1" cy="736.7" r="0.9"/><circle cx="103.9" cy="743.7" r="0.7"/><circle cx="98.8" cy="749.0" r="1.0"/><circle cx="106.6" cy="749.7" r="0.8"/><circle cx="95.1" cy="738.9" r="1.1"/><circle cx="99.6" cy="745.8" r="1.1"/><circle cx="109.3" cy="723.6" r="1.0"/><circle cx="98.7" cy="742.0" r="0.8"/><circle cx="114.9" cy="723.0" r="0.9"/><circle cx="110.3" cy="734.7" r="0.8"/><circle cx="98.6" cy="736.0" r="0.9"/><circle cx="113.8" cy="735.5" r="0.8"/><circle cx="109.4" cy="749.7" r="0.8"/><circle cx="119.6" cy="736.5" r="0.9"/><circle cx="108.4" cy="747.8" r="1.0"/><circle cx="95.3" cy="732.6" r="1.0"/><circle cx="115.4" cy="722.4" r="0.9"/><circle cx="98.8" cy="749.0" r="0.8"/><circle cx="104.7" cy="723.1" r="1.0"/><circle cx="122.0" cy="733.1" r="0.8"/><circle cx="99.4" cy="728.5" r="1.0"/><circle cx="101.7" cy="742.8" r="1.0"/><circle cx="99.8" cy="734.7" r="0.8"/><circle cx="104.5" cy="742.5" r="0.9"/><circle cx="110.5" cy="739.3" r="0.7"/><circle cx="118.6" cy="744.6" r="0.8"/><circle cx="93.9" cy="740.7" r="0.9"/><circle cx="115.5" cy="749.3" r="1.1"/><circle cx="115.4" cy="739.1" r="0.9"/><circle cx="110.5" cy="726.6" r="1.0"/><circle cx="107.4" cy="750.2" r="0.8"/><circle cx="100.5" cy="748.7" r="1.1"/><circle cx="113.4" cy="725.6" r="0.9"/><circle cx="104.2" cy="724.0" r="1.1"/><circle cx="109.4" cy="730.9" r="0.9"/><circle cx="103.8" cy="729.5" r="0.8"/><circle cx="120.0" cy="737.5" r="1.1"/><circle cx="113.5" cy="735.3" r="1.0"/><circle cx="96.3" cy="742.7" r="0.9"/><circle cx="122.4" cy="729.8" r="0.7"/><circle cx="106.3" cy="730.9" r="0.7"/><circle cx="104.5" cy="750.0" r="1.1"/><circle cx="114.4" cy="742.8" r="0.7"/><circle cx="96.7" cy="733.4" r="0.9"/><circle cx="102.3" cy="750.0" r="1.1"/><circle cx="105.5" cy="746.4" r="1.0"/><circle cx="109.2" cy="720.3" r="0.9"/><circle cx="103.5" cy="725.1" r="1.1"/><circle cx="111.7" cy="741.8" r="0.7"/><circle cx="115.1" cy="733.1" r="0.9"/><circle cx="114.3" cy="742.8" r="0.7"/><circle cx="101.9" cy="733.9" r="1.0"/><circle cx="106.4" cy="744.1" r="0.9"/><circle cx="102.1" cy="742.6" r="0.7"/><circle cx="121.8" cy="742.5" r="0.8"/><circle cx="113.7" cy="739.7" r="0.9"/><circle cx="114.9" cy="736.3" r="1.1"/><circle cx="97.2" cy="737.4" r="1.1"/><circle cx="104.5" cy="738.8" r="0.9"/><circle cx="100.5" cy="725.7" r="0.8"/><circle cx="121.7" cy="730.7" r="1.1"/><circle cx="93.7" cy="741.6" r="1.0"/><circle cx="108.8" cy="738.8" r="0.8"/><circle cx="110.9" cy="739.4" r="0.9"/><circle cx="107.8" cy="727.3" r="0.9"/><circle cx="115.1" cy="736.9" r="1.1"/><circle cx="119.4" cy="737.2" r="1.1"/><circle cx="111.3" cy="722.9" r="0.9"/><circle cx="112.5" cy="722.4" r="1.0"/><circle cx="112.8" cy="735.9" r="1.1"/><circle cx="96.4" cy="744.3" r="0.8"/><circle cx="109.7" cy="735.1" r="1.0"/><circle cx="109.0" cy="746.5" r="0.9"/><circle cx="99.5" cy="724.2" r="0.9"/><circle cx="101.3" cy="729.0" r="0.8"/><circle cx="115.3" cy="731.2" r="0.7"/><circle cx="100.5" cy="748.5" r="0.8"/><circle cx="107.1" cy="724.4" r="1.0"/><circle cx="109.9" cy="741.2" r="0.8"/><circle cx="101.3" cy="745.0" r="0.7"/><circle cx="97.2" cy="736.2" r="0.8"/><circle cx="92.1" cy="732.7" r="0.8"/><circle cx="114.4" cy="730.1" r="1.0"/><circle cx="120.2" cy="746.6" r="0.9"/><circle cx="115.0" cy="734.6" r="0.9"/><circle cx="105.7" cy="729.8" r="0.8"/><circle cx="100.6" cy="722.2" r="0.8"/><circle cx="111.6" cy="745.3" r="1.1"/><circle cx="115.4" cy="746.8" r="0.9"/><circle cx="103.0" cy="730.5" r="1.0"/><circle cx="119.1" cy="726.6" r="1.0"/><circle cx="95.3" cy="736.0" r="0.8"/><circle cx="114.7" cy="724.9" r="0.9"/><circle cx="102.3" cy="727.3" r="0.9"/><circle cx="109.2" cy="748.9" r="1.0"/><circle cx="104.7" cy="736.1" r="1.0"/><circle cx="95.7" cy="740.5" r="1.0"/><circle cx="113.4" cy="733.8" r="0.9"/><circle cx="121.6" cy="735.8" r="0.8"/><circle cx="106.3" cy="720.2" r="0.9"/><circle cx="111.5" cy="732.1" r="1.1"/><circle cx="99.7" cy="736.8" r="1.1"/><circle cx="98.3" cy="723.7" r="1.1"/><circle cx="111.0" cy="725.3" r="1.1"/><circle cx="121.6" cy="742.4" r="1.0"/><circle cx="107.5" cy="751.0" r="0.9"/><circle cx="92.8" cy="733.0" r="0.8"/><circle cx="105.2" cy="749.3" r="0.7"/><circle cx="94.0" cy="731.5" r="0.9"/><circle cx="108.4" cy="751.0" r="1.1"/><circle cx="109.2" cy="724.4" r="1.1"/><circle cx="109.4" cy="730.3" r="0.9"/><circle cx="110.1" cy="738.2" r="0.9"/><circle cx="117.4" cy="725.2" r="0.8"/><circle cx="111.8" cy="745.6" r="1.1"/><circle cx="96.1" cy="726.0" r="0.7"/><circle cx="115.0" cy="735.8" r="1.0"/><circle cx="117.5" cy="726.7" r="0.8"/><circle cx="102.4" cy="727.1" r="0.7"/><circle cx="102.7" cy="744.1" r="1.0"/><circle cx="105.3" cy="748.9" r="1.0"/><circle cx="110.1" cy="741.7" r="1.0"/><circle cx="101.9" cy="737.6" r="0.8"/><circle cx="119.5" cy="731.8" r="0.9"/><circle cx="113.0" cy="751.7" r="1.0"/><circle cx="106.8" cy="726.7" r="0.8"/><circle cx="102.4" cy="739.8" r="1.0"/><circle cx="94.5" cy="743.1" r="0.9"/><circle cx="96.4" cy="739.5" r="1.1"/><circle cx="99.8" cy="747.6" r="0.8"/><circle cx="100.0" cy="732.2" r="1.1"/><circle cx="104.2" cy="751.1" r="1.0"/><circle cx="92.5" cy="740.8" r="0.9"/><circle cx="107.1" cy="723.8" r="0.9"/><circle cx="117.3" cy="740.5" r="0.8"/><circle cx="92.8" cy="742.2" r="0.8"/><circle cx="103.1" cy="723.8" r="0.8"/><circle cx="102.6" cy="739.5" r="1.1"/><circle cx="107.5" cy="747.0" r="0.9"/><circle cx="114.0" cy="722.8" r="1.0"/><circle cx="102.7" cy="734.9" r="1.1"/><circle cx="116.0" cy="741.6" r="0.9"/><circle cx="105.4" cy="723.3" r="0.9"/><circle cx="120.3" cy="726.9" r="0.7"/><circle cx="100.1" cy="728.1" r="0.9"/><circle cx="98.7" cy="738.4" r="1.0"/><circle cx="94.9" cy="726.5" r="1.1"/><circle cx="117.8" cy="735.9" r="1.1"/><circle cx="99.6" cy="725.4" r="1.1"/><circle cx="117.7" cy="740.9" r="0.9"/><circle cx="103.4" cy="730.1" r="1.1"/><circle cx="110.1" cy="746.0" r="0.8"/><circle cx="96.5" cy="745.0" r="0.7"/><circle cx="114.2" cy="747.8" r="1.0"/><circle cx="107.2" cy="728.2" r="1.1"/><circle cx="105.9" cy="722.1" r="0.8"/><circle cx="105.6" cy="736.8" r="1.1"/><circle cx="122.1" cy="731.1" r="0.7"/><circle cx="100.5" cy="746.0" r="0.9"/><circle cx="118.7" cy="745.7" r="0.8"/><circle cx="101.9" cy="736.1" r="1.0"/><circle cx="110.9" cy="739.9" r="0.9"/><circle cx="103.7" cy="750.2" r="0.8"/><circle cx="104.3" cy="738.4" r="0.8"/><circle cx="96.0" cy="740.0" r="0.9"/><circle cx="110.7" cy="732.2" r="1.1"/><circle cx="116.6" cy="749.7" r="0.9"/><circle cx="97.0" cy="743.5" r="1.1"/><circle cx="117.8" cy="734.0" r="0.7"/><circle cx="116.0" cy="748.5" r="1.0"/><circle cx="106.1" cy="730.1" r="0.9"/><circle cx="112.9" cy="737.4" r="0.8"/><circle cx="120.4" cy="733.6" r="1.1"/><circle cx="117.7" cy="739.4" r="0.7"/><circle cx="107.2" cy="741.8" r="1.1"/><circle cx="102.2" cy="746.4" r="1.0"/><circle cx="119.6" cy="726.0" r="1.0"/><circle cx="92.1" cy="736.3" r="0.9"/><circle cx="103.3" cy="749.7" r="0.8"/><circle cx="100.4" cy="744.3" r="0.9"/><circle cx="100.9" cy="744.7" r="0.9"/><circle cx="121.8" cy="741.0" r="0.7"/><circle cx="95.7" cy="734.3" r="0.9"/><circle cx="108.5" cy="741.5" r="0.9"/><circle cx="103.1" cy="746.8" r="0.8"/><circle cx="107.6" cy="725.0" r="0.7"/><circle cx="94.3" cy="745.3" r="0.7"/><circle cx="94.3" cy="727.6" r="0.9"/><circle cx="99.5" cy="730.7" r="0.8"/><circle cx="97.9" cy="728.5" r="0.8"/><circle cx="95.9" cy="736.6" r="1.0"/><circle cx="112.3" cy="738.0" r="0.8"/><circle cx="105.8" cy="750.8" r="0.9"/><circle cx="114.2" cy="728.4" r="0.8"/><circle cx="105.6" cy="732.1" r="1.1"/><circle cx="112.2" cy="728.3" r="0.8"/><circle cx="113.7" cy="723.3" r="1.0"/></g>
<circle cx="164.5" cy="737" r="15.8" fill="#909090" opacity="0.6"/>
<g fill="#cfcfcf" opacity="1"><circle cx="177.8" cy="742.0" r="0.7"/><circle cx="155.9" cy="728.5" r="1.1"/><circle cx="162.9" cy="735.1" r="1.1"/><circle cx="164.7" cy="724.6" r="0.7"/><circle cx="163.6" cy="726.5" r="1.0"/><circle cx="180.0" cy="735.4" r="0.7"/><circle cx="166.6" cy="726.4" r="1.0"/><circle cx="156.7" cy="744.6" r="0.9"/><circle cx="171.3" cy="743.2" r="1.0"/><circle cx="169.5" cy="739.4" r="1.1"/><circle cx="158.4" cy="726.6" r="0.8"/><circle cx="171.2" cy="743.1" r="1.1"/><circle cx="150.0" cy="731.2" r="0.8"/><circle cx="154.2" cy="743.1" r="1.1"/><circle cx="175.4" cy="747.7" r="0.9"/><circle cx="175.0" cy="739.1" r="0.9"/><circle cx="157.3" cy="723.0" r="0.9"/><circle cx="160.7" cy="727.6" r="1.1"/><circle cx="175.6" cy="745.6" r="0.8"/><circle cx="158.2" cy="733.2" r="0.9"/><circle cx="169.5" cy="745.3" r="1.0"/><circle cx="154.4" cy="735.7" r="1.0"/><circle cx="169.8" cy="728.8" r="1.0"/><circle cx="148.5" cy="739.0" r="0.8"/><circle cx="161.9" cy="729.5" r="0.8"/><circle cx="163.0" cy="724.7" r="0.8"/><circle cx="178.1" cy="742.8" r="0.9"/><circle cx="162.3" cy="726.5" r="1.0"/><circle cx="149.5" cy="731.1" r="1.1"/><circle cx="153.6" cy="740.1" r="0.8"/><circle cx="164.6" cy="731.8" r="0.8"/><circle cx="166.3" cy="734.5" r="1.0"/><circle cx="153.5" cy="732.0" r="0.8"/><circle cx="173.7" cy="749.9" r="1.0"/><circle cx="166.2" cy="732.2" r="1.1"/><circle cx="165.9" cy="744.1" r="0.9"/><circle cx="160.1" cy="733.4" r="1.0"/><circle cx="151.1" cy="729.3" r="1.1"/><circle cx="160.8" cy="727.9" r="1.1"/><circle cx="162.8" cy="728.4" r="1.1"/><circle cx="163.3" cy="728.7" r="0.8"/><circle cx="176.3" cy="738.5" r="0.8"/><circle cx="162.3" cy="744.9" r="0.8"/><circle cx="156.0" cy="737.8" r="0.8"/><circle cx="162.5" cy="748.5" r="1.1"/><circle cx="172.6" cy="749.8" r="1.1"/><circle cx="155.2" cy="729.4" r="1.0"/><circle cx="151.6" cy="734.1" r="1.1"/><circle cx="165.8" cy="728.8" r="0.7"/><circle cx="173.5" cy="733.2" r="1.1"/><circle cx="165.6" cy="747.9" r="0.9"/><circle cx="162.4" cy="721.3" r="0.9"/><circle cx="155.7" cy="733.1" r="0.8"/><circle cx="169.6" cy="735.3" r="1.1"/><circle cx="162.1" cy="733.4" r="1.1"/><circle cx="174.3" cy="744.3" r="0.8"/><circle cx="173.5" cy="736.4" r="1.1"/><circle cx="176.8" cy="742.0" r="0.7"/><circle cx="176.6" cy="739.3" r="1.1"/><circle cx="158.5" cy="723.2" r="1.1"/><circle cx="160.0" cy="736.4" r="0.9"/><circle cx="169.2" cy="747.8" r="0.9"/><circle cx="157.3" cy="737.0" r="1.0"/><circle cx="154.6" cy="742.6" r="0.7"/><circle cx="152.4" cy="738.0" r="1.1"/><circle cx="159.0" cy="734.7" r="0.8"/><circle cx="157.5" cy="748.7" r="1.1"/><circle cx="180.2" cy="734.6" r="1.1"/><circle cx="174.4" cy="724.8" r="0.7"/><circle cx="152.0" cy="737.8" r="1.0"/><circle cx="154.8" cy="728.7" r="1.1"/><circle cx="174.6" cy="743.1" r="1.1"/><circle cx="169.8" cy="738.1" r="1.1"/><circle cx="166.9" cy="736.3" r="0.7"/><circle cx="171.0" cy="725.1" r="0.9"/><circle cx="152.1" cy="730.2" r="1.1"/><circle cx="168.7" cy="737.0" r="1.1"/><circle cx="179.2" cy="734.7" r="0.9"/><circle cx="159.6" cy="745.2" r="0.7"/><circle cx="165.6" cy="728.7" r="1.0"/><circle cx="155.2" cy="735.5" r="1.0"/><circle cx="156.9" cy="739.2" r="1.1"/><circle cx="167.3" cy="742.6" r="0.8"/><circle cx="150.2" cy="738.9" r="0.8"/><circle cx="165.5" cy="750.1" r="0.8"/><circle cx="156.4" cy="735.8" r="1.1"/><circle cx="167.6" cy="744.2" r="0.8"/><circle cx="157.8" cy="749.2" r="1.0"/><circle cx="167.5" cy="725.4" r="0.7"/><circle cx="165.2" cy="729.0" r="0.8"/><circle cx="150.6" cy="745.3" r="0.9"/><circle cx="154.9" cy="749.2" r="1.1"/><circle cx="159.9" cy="740.9" r="1.1"/><circle cx="166.4" cy="727.7" r="1.1"/><circle cx="158.2" cy="743.0" r="1.0"/><circle cx="163.9" cy="725.8" r="1.1"/><circle cx="176.0" cy="738.0" r="0.9"/><circle cx="178.8" cy="743.2" r="0.8"/><circle cx="168.7" cy="751.7" r="1.1"/><circle cx="173.2" cy="733.0" r="1.1"/><circle cx="173.2" cy="747.7" r="1.1"/><circle cx="166.6" cy="742.6" r="1.0"/><circle cx="174.8" cy="727.7" r="1.1"/><circle cx="155.0" cy="739.8" r="0.8"/><circle cx="162.2" cy="752.6" r="0.7"/><circle cx="168.3" cy="745.8" r="0.7"/><circle cx="162.1" cy="743.5" r="0.8"/><circle cx="152.7" cy="735.0" r="1.0"/><circle cx="165.4" cy="725.2" r="1.1"/><circle cx="171.2" cy="740.8" r="0.7"/><circle cx="159.3" cy="750.2" r="1.1"/><circle cx="158.0" cy="736.8" r="0.8"/><circle cx="156.5" cy="733.3" r="1.1"/><circle cx="175.4" cy="735.1" r="1.0"/><circle cx="170.8" cy="727.8" r="0.8"/><circle cx="179.6" cy="731.5" r="0.7"/><circle cx="165.3" cy="726.7" r="0.7"/><circle cx="168.0" cy="742.8" r="1.0"/><circle cx="165.0" cy="739.2" r="0.8"/><circle cx="168.0" cy="726.0" r="1.0"/><circle cx="157.7" cy="738.5" r="0.7"/><circle cx="163.4" cy="740.1" r="0.8"/><circle cx="157.2" cy="730.3" r="0.9"/><circle cx="158.0" cy="730.6" r="0.9"/><circle cx="173.8" cy="728.7" r="0.9"/><circle cx="153.8" cy="734.2" r="0.8"/><circle cx="171.2" cy="732.9" r="1.1"/><circle cx="173.7" cy="724.8" r="0.8"/><circle cx="148.4" cy="736.1" r="0.8"/><circle cx="171.1" cy="749.2" r="0.8"/><circle cx="158.9" cy="733.8" r="1.1"/><circle cx="163.4" cy="742.0" r="1.0"/><circle cx="157.5" cy="747.0" r="0.9"/><circle cx="174.8" cy="731.5" r="0.9"/><circle cx="176.0" cy="737.1" r="0.8"/><circle cx="152.9" cy="731.2" r="0.9"/><circle cx="174.2" cy="743.2" r="0.9"/><circle cx="154.4" cy="724.5" r="0.8"/><circle cx="160.1" cy="738.7" r="1.1"/><circle cx="165.9" cy="751.8" r="1.1"/><circle cx="164.0" cy="752.5" r="0.9"/><circle cx="153.6" cy="742.4" r="1.1"/><circle cx="153.2" cy="737.7" r="0.8"/><circle cx="170.8" cy="727.3" r="0.9"/><circle cx="167.0" cy="744.1" r="1.1"/><circle cx="169.8" cy="721.8" r="1.1"/><circle cx="158.7" cy="723.6" r="1.0"/><circle cx="169.8" cy="723.4" r="0.8"/><circle cx="168.1" cy="728.8" r="0.8"/><circle cx="166.7" cy="735.8" r="0.9"/><circle cx="156.5" cy="749.1" r="1.0"/><circle cx="177.8" cy="728.7" r="1.0"/><circle cx="176.7" cy="742.2" r="0.7"/><circle cx="179.6" cy="735.3" r="0.8"/><circle cx="169.8" cy="749.5" r="1.0"/><circle cx="177.3" cy="735.8" r="0.8"/><circle cx="163.9" cy="733.1" r="1.1"/><circle cx="166.2" cy="722.7" r="1.1"/><circle cx="150.1" cy="730.3" r="1.0"/><circle cx="154.4" cy="737.5" r="0.9"/><circle cx="171.0" cy="737.9" r="1.1"/><circle cx="166.3" cy="750.1" r="1.0"/><circle cx="160.5" cy="726.0" r="0.8"/><circle cx="163.5" cy="744.0" r="1.0"/><circle cx="158.3" cy="722.4" r="0.8"/><circle cx="178.5" cy="730.1" r="0.8"/><circle cx="176.8" cy="733.2" r="1.1"/><circle cx="165.9" cy="727.7" r="0.8"/><circle cx="153.2" cy="735.4" r="0.7"/><circle cx="172.2" cy="727.9" r="0.9"/><circle cx="164.2" cy="728.9" r="0.8"/><circle cx="157.5" cy="733.1" r="0.8"/><circle cx="167.9" cy="738.6" r="0.9"/><circle cx="148.8" cy="734.3" r="1.0"/><circle cx="155.6" cy="742.3" r="0.8"/><circle cx="148.8" cy="739.6" r="0.8"/><circle cx="152.2" cy="742.5" r="1.0"/><circle cx="152.2" cy="732.6" r="1.1"/><circle cx="171.2" cy="732.3" r="0.9"/><circle cx="176.3" cy="736.8" r="0.8"/><circle cx="164.9" cy="733.1" r="0.8"/><circle cx="156.4" cy="734.3" r="1.0"/><circle cx="163.2" cy="727.9" r="1.0"/><circle cx="156.3" cy="726.0" r="0.9"/><circle cx="159.7" cy="739.2" r="0.9"/><circle cx="179.2" cy="732.7" r="0.7"/><circle cx="172.1" cy="740.7" r="1.0"/><circle cx="159.1" cy="739.2" r="0.9"/><circle cx="151.9" cy="730.8" r="0.9"/><circle cx="156.6" cy="726.1" r="1.0"/><circle cx="177.7" cy="740.9" r="0.8"/><circle cx="175.1" cy="740.8" r="0.7"/><circle cx="173.6" cy="741.5" r="0.9"/><circle cx="177.0" cy="746.8" r="1.1"/><circle cx="152.0" cy="738.0" r="0.8"/><circle cx="170.1" cy="736.4" r="0.8"/><circle cx="167.3" cy="751.9" r="0.9"/><circle cx="155.8" cy="742.5" r="1.1"/><circle cx="163.8" cy="751.5" r="1.0"/><circle cx="155.2" cy="740.1" r="0.9"/></g>
<circle cx="224" cy="748.5" r="18.3" fill="#909090" opacity="0.6"/>
<g fill="#cfcfcf" opacity="1"><circle cx="213.9" cy="751.6" r="1.0"/><circle cx="215.2" cy="754.0" r="1.0"/><circle cx="211.6" cy="752.1" r="1.1"/><circle cx="212.9" cy="751.7" r="1.1"/><circle cx="240.5" cy="746.0" r="0.9"/><circle cx="216.3" cy="734.3" r="0.8"/><circle cx="221.0" cy="730.4" r="1.0"/><circle cx="217.9" cy="737.7" r="1.0"/><circle cx="226.5" cy="764.8" r="0.9"/><circle cx="234.9" cy="747.1" r="1.0"/><circle cx="236.1" cy="749.8" r="1.0"/><circle cx="223.1" cy="763.2" r="0.8"/><circle cx="209.0" cy="759.7" r="0.8"/><circle cx="227.9" cy="746.1" r="1.0"/><circle cx="231.4" cy="733.0" r="0.9"/><circle cx="210.6" cy="740.0" r="1.0"/><circle cx="223.7" cy="734.2" r="0.8"/><circle cx="220.1" cy="735.0" r="0.9"/><circle cx="230.9" cy="747.9" r="1.1"/><circle cx="216.7" cy="762.8" r="1.1"/><circle cx="221.8" cy="762.5" r="0.9"/><circle cx="216.3" cy="748.7" r="1.0"/><circle cx="236.0" cy="739.0" r="0.8"/><circle cx="228.2" cy="737.1" r="0.8"/><circle cx="214.0" cy="740.6" r="0.9"/><circle cx="238.2" cy="747.7" r="1.1"/><circle cx="214.2" cy="761.6" r="0.7"/><circle cx="219.1" cy="763.4" r="1.0"/><circle cx="229.5" cy="738.3" r="0.8"/><circle cx="215.3" cy="759.2" r="0.7"/><circle cx="213.3" cy="759.3" r="0.8"/><circle cx="217.4" cy="764.8" r="1.1"/><circle cx="224.0" cy="756.4" r="0.8"/><circle cx="238.4" cy="757.1" r="1.0"/><circle cx="222.8" cy="761.6" r="1.0"/><circle cx="240.7" cy="751.5" r="1.1"/><circle cx="227.8" cy="763.8" r="1.0"/><circle cx="214.8" cy="763.5" r="0.8"/><circle cx="213.6" cy="750.2" r="0.9"/><circle cx="229.4" cy="735.4" r="1.0"/><circle cx="232.9" cy="747.8" r="0.8"/><circle cx="218.7" cy="743.5" r="1.1"/><circle cx="217.2" cy="759.0" r="0.9"/><circle cx="232.4" cy="732.6" r="1.0"/><circle cx="229.3" cy="758.4" r="1.0"/><circle cx="227.7" cy="765.8" r="1.1"/><circle cx="225.7" cy="759.7" r="0.8"/><circle cx="223.2" cy="744.5" r="1.0"/><circle cx="239.9" cy="755.1" r="0.9"/><circle cx="219.0" cy="745.6" r="0.7"/><circle cx="212.7" cy="763.4" r="1.0"/><circle cx="227.1" cy="744.9" r="0.7"/><circle cx="239.6" cy="750.6" r="0.8"/><circle cx="221.8" cy="763.7" r="1.0"/><circle cx="218.4" cy="760.0" r="0.8"/><circle cx="213.6" cy="744.3" r="0.9"/><circle cx="224.1" cy="758.7" r="0.8"/><circle cx="234.4" cy="749.6" r="1.0"/><circle cx="223.3" cy="754.8" r="1.1"/><circle cx="210.8" cy="751.1" r="0.8"/><circle cx="236.4" cy="737.9" r="1.0"/><circle cx="215.6" cy="735.3" r="0.9"/><circle cx="214.0" cy="754.6" r="0.9"/><circle cx="210.6" cy="751.2" r="0.9"/><circle cx="228.3" cy="731.3" r="0.8"/><circle cx="234.2" cy="749.9" r="0.7"/><circle cx="228.3" cy="734.3" r="0.8"/><circle cx="230.3" cy="764.8" r="1.1"/><circle cx="217.7" cy="734.2" r="1.0"/><circle cx="212.6" cy="751.8" r="0.9"/><circle cx="237.7" cy="735.7" r="1.1"/><circle cx="226.6" cy="744.1" r="0.8"/><circle cx="237.6" cy="746.0" r="0.9"/><circle cx="217.6" cy="764.7" r="0.9"/><circle cx="229.2" cy="748.2" r="1.1"/><circle cx="231.2" cy="749.1" r="0.9"/><circle cx="220.0" cy="743.7" r="1.0"/><circle cx="235.5" cy="743.9" r="1.0"/><circle cx="212.0" cy="740.7" r="0.8"/><circle cx="206.6" cy="752.5" r="1.0"/><circle cx="226.6" cy="760.8" r="0.9"/><circle cx="216.6" cy="760.7" r="1.0"/><circle cx="232.8" cy="749.5" r="1.0"/><circle cx="225.1" cy="753.4" r="1.0"/><circle cx="214.7" cy="764.4" r="1.0"/><circle cx="236.1" cy="757.4" r="0.8"/><circle cx="230.3" cy="733.8" r="1.0"/><circle cx="227.3" cy="749.7" r="1.1"/><circle cx="229.4" cy="755.0" r="0.7"/><circle cx="230.7" cy="759.6" r="1.1"/><circle cx="219.9" cy="757.1" r="1.1"/><circle cx="230.0" cy="762.2" r="1.0"/><circle cx="227.6" cy="746.9" r="1.0"/><circle cx="211.4" cy="760.0" r="0.8"/><circle cx="222.2" cy="740.6" r="0.9"/><circle cx="233.0" cy="746.7" r="0.8"/><circle cx="237.4" cy="740.9" r="0.7"/><circle cx="227.6" cy="756.9" r="0.8"/><circle cx="232.8" cy="735.5" r="1.1"/><circle cx="216.8" cy="735.5" r="0.9"/><circle cx="221.3" cy="735.6" r="0.7"/><circle cx="212.4" cy="749.1" r="0.9"/><circle cx="227.0" cy="749.4" r="1.1"/><circle cx="216.5" cy="756.3" r="0.8"/><circle cx="209.0" cy="738.6" r="0.8"/><circle cx="210.7" cy="748.5" r="1.0"/><circle cx="215.6" cy="744.8" r="0.8"/><circle cx="223.2" cy="743.3" r="1.1"/><circle cx="232.0" cy="750.2" r="0.9"/><circle cx="232.2" cy="736.2" r="1.0"/><circle cx="225.1" cy="732.6" r="0.7"/><circle cx="227.3" cy="742.1" r="0.8"/><circle cx="227.1" cy="749.2" r="1.1"/><circle cx="219.9" cy="752.3" r="0.7"/><circle cx="232.3" cy="736.5" r="1.1"/><circle cx="230.1" cy="750.0" r="0.8"/><circle cx="226.3" cy="754.4" r="0.8"/><circle cx="219.1" cy="742.5" r="0.8"/><circle cx="212.8" cy="745.9" r="0.8"/><circle cx="211.8" cy="742.9" r="0.9"/><circle cx="220.3" cy="749.1" r="1.0"/><circle cx="227.8" cy="758.7" r="0.7"/><circle cx="235.0" cy="739.2" r="0.9"/><circle cx="206.4" cy="743.8" r="0.8"/><circle cx="212.2" cy="759.1" r="0.9"/><circle cx="219.2" cy="731.2" r="0.7"/><circle cx="221.8" cy="758.4" r="1.0"/><circle cx="227.4" cy="733.1" r="1.1"/><circle cx="228.6" cy="759.3" r="1.1"/><circle cx="224.6" cy="742.2" r="1.1"/><circle cx="223.0" cy="731.0" r="0.9"/><circle cx="209.5" cy="737.2" r="1.1"/><circle cx="208.3" cy="740.2" r="1.1"/><circle cx="232.1" cy="735.6" r="1.1"/><circle cx="231.4" cy="757.9" r="1.0"/><circle cx="235.2" cy="760.7" r="0.7"/><circle cx="217.1" cy="741.3" r="0.8"/><circle cx="217.6" cy="743.4" r="0.9"/><circle cx="235.7" cy="733.9" r="0.8"/><circle cx="213.6" cy="760.2" r="0.8"/><circle cx="228.9" cy="741.7" r="1.0"/><circle cx="223.7" cy="749.0" r="0.7"/><circle cx="234.8" cy="748.6" r="0.8"/><circle cx="239.0" cy="747.7" r="0.7"/><circle cx="222.1" cy="739.6" r="0.9"/><circle cx="221.0" cy="731.4" r="1.1"/><circle cx="214.7" cy="753.5" r="0.9"/><circle cx="217.8" cy="763.4" r="0.9"/><circle cx="221.1" cy="741.8" r="1.1"/><circle cx="232.3" cy="746.7" r="1.0"/><circle cx="225.9" cy="751.5" r="0.9"/><circle cx="230.5" cy="763.2" r="1.0"/><circle cx="215.6" cy="732.0" r="0.7"/><circle cx="226.9" cy="750.6" r="0.9"/><circle cx="231.0" cy="734.6" r="0.9"/><circle cx="231.1" cy="739.5" r="0.8"/><circle cx="222.1" cy="746.2" r="0.8"/><circle cx="231.4" cy="749.9" r="0.7"/><circle cx="217.4" cy="747.2" r="1.0"/><circle cx="229.0" cy="738.6" r="0.8"/><circle cx="216.4" cy="734.4" r="1.1"/><circle cx="210.5" cy="743.7" r="1.1"/><circle cx="215.8" cy="731.8" r="0.8"/><circle cx="226.3" cy="733.7" r="0.9"/><circle cx="236.9" cy="749.4" r="0.8"/><circle cx="213.2" cy="740.5" r="0.9"/><circle cx="230.4" cy="751.0" r="1.0"/><circle cx="216.3" cy="731.5" r="1.1"/><circle cx="220.8" cy="760.8" r="0.9"/><circle cx="227.9" cy="737.4" r="1.1"/><circle cx="212.2" cy="749.7" r="0.9"/><circle cx="212.3" cy="763.2" r="0.7"/><circle cx="219.7" cy="751.6" r="1.0"/><circle cx="228.2" cy="754.4" r="0.9"/><circle cx="210.8" cy="738.7" r="0.9"/><circle cx="220.8" cy="759.4" r="1.1"/><circle cx="224.5" cy="750.5" r="1.1"/><circle cx="217.2" cy="749.2" r="0.8"/><circle cx="236.6" cy="738.2" r="0.7"/><circle cx="220.1" cy="740.8" r="0.9"/><circle cx="220.6" cy="745.9" r="1.1"/><circle cx="220.4" cy="754.6" r="1.1"/><circle cx="226.8" cy="750.8" r="1.0"/><circle cx="206.5" cy="751.8" r="1.1"/><circle cx="225.1" cy="752.3" r="1.0"/><circle cx="213.9" cy="750.4" r="1.1"/><circle cx="227.9" cy="763.1" r="0.7"/><circle cx="240.2" cy="740.0" r="1.0"/><circle cx="217.2" cy="763.0" r="1.1"/><circle cx="225.1" cy="744.9" r="0.9"/><circle cx="232.9" cy="759.2" r="1.1"/><circle cx="230.2" cy="741.5" r="0.9"/><circle cx="220.8" cy="755.5" r="1.0"/><circle cx="224.6" cy="737.6" r="0.9"/><circle cx="218.7" cy="733.4" r="0.9"/><circle cx="228.3" cy="752.4" r="0.8"/><circle cx="230.1" cy="736.8" r="1.0"/><circle cx="216.5" cy="757.1" r="0.8"/><circle cx="238.4" cy="746.2" r="0.8"/><circle cx="219.7" cy="734.6" r="1.0"/><circle cx="225.8" cy="734.0" r="1.1"/><circle cx="235.8" cy="746.2" r="1.0"/><circle cx="215.5" cy="757.1" r="0.9"/><circle cx="217.3" cy="739.6" r="0.9"/><circle cx="233.6" cy="734.7" r="1.0"/><circle cx="230.5" cy="738.8" r="1.0"/><circle cx="223.9" cy="759.1" r="0.7"/><circle cx="229.4" cy="731.3" r="0.8"/><circle cx="219.4" cy="753.0" r="0.8"/><circle cx="212.5" cy="734.9" r="0.7"/><circle cx="223.5" cy="764.9" r="0.8"/><circle cx="232.0" cy="740.7" r="0.9"/><circle cx="227.0" cy="758.2" r="0.9"/><circle cx="221.2" cy="764.3" r="0.7"/><circle cx="213.2" cy="735.6" r="0.8"/><circle cx="226.3" cy="754.6" r="0.7"/><circle cx="227.8" cy="734.4" r="0.7"/><circle cx="210.1" cy="752.7" r="0.8"/><circle cx="235.9" cy="751.1" r="0.9"/><circle cx="235.1" cy="746.5" r="1.1"/><circle cx="233.6" cy="738.0" r="0.8"/><circle cx="226.0" cy="743.2" r="1.0"/><circle cx="228.7" cy="751.8" r="0.9"/><circle cx="234.4" cy="764.1" r="1.0"/><circle cx="238.7" cy="737.4" r="1.0"/><circle cx="216.1" cy="738.2" r="1.0"/><circle cx="220.4" cy="742.0" r="0.9"/><circle cx="212.4" cy="755.5" r="1.0"/><circle cx="218.7" cy="735.3" r="1.1"/><circle cx="226.6" cy="743.4" r="0.8"/><circle cx="231.2" cy="750.7" r="1.1"/><circle cx="219.4" cy="760.1" r="0.9"/><circle cx="214.9" cy="744.6" r="1.1"/><circle cx="215.5" cy="763.6" r="1.1"/><circle cx="237.9" cy="748.6" r="0.7"/><circle cx="227.7" cy="745.2" r="0.8"/><circle cx="225.7" cy="734.1" r="1.0"/><circle cx="212.4" cy="755.5" r="0.8"/><circle cx="214.7" cy="750.7" r="1.0"/><circle cx="229.5" cy="752.8" r="0.8"/><circle cx="210.0" cy="745.6" r="0.7"/><circle cx="241.1" cy="747.1" r="0.9"/><circle cx="233.3" cy="762.9" r="1.1"/><circle cx="231.1" cy="763.2" r="1.1"/><circle cx="231.9" cy="745.2" r="0.8"/><circle cx="228.6" cy="756.3" r="1.1"/><circle cx="234.9" cy="741.6" r="0.8"/><circle cx="218.5" cy="755.9" r="1.0"/><circle cx="220.9" cy="732.2" r="0.9"/><circle cx="211.6" cy="751.9" r="0.9"/><circle cx="209.1" cy="752.8" r="1.0"/><circle cx="217.5" cy="761.1" r="0.8"/><circle cx="235.2" cy="751.8" r="0.9"/><circle cx="229.2" cy="749.6" r="0.9"/><circle cx="240.1" cy="742.4" r="0.7"/><circle cx="219.4" cy="758.9" r="0.8"/><circle cx="233.4" cy="759.5" r="1.1"/><circle cx="218.2" cy="753.8" r="0.7"/><circle cx="240.4" cy="750.1" r="0.8"/><circle cx="221.3" cy="732.0" r="0.7"/><circle cx="228.0" cy="758.3" r="1.0"/><circle cx="223.1" cy="738.2" r="0.9"/><circle cx="216.1" cy="758.7" r="1.1"/><circle cx="222.8" cy="765.4" r="1.1"/><circle cx="209.2" cy="737.6" r="1.1"/><circle cx="232.9" cy="765.0" r="0.8"/><circle cx="226.2" cy="742.3" r="0.8"/><circle cx="207.9" cy="754.6" r="1.0"/><circle cx="229.1" cy="765.6" r="1.1"/><circle cx="219.8" cy="748.2" r="0.8"/><circle cx="220.8" cy="760.2" r="1.1"/><circle cx="209.9" cy="738.9" r="0.7"/><circle cx="224.5" cy="764.6" r="0.9"/><circle cx="224.7" cy="753.2" r="0.7"/><circle cx="212.2" cy="755.8" r="0.9"/><circle cx="214.7" cy="744.5" r="0.7"/><circle cx="219.0" cy="738.8" r="0.9"/><circle cx="217.0" cy="755.3" r="0.7"/><circle cx="221.0" cy="758.3" r="0.8"/><circle cx="236.8" cy="750.9" r="0.7"/><circle cx="232.2" cy="740.7" r="0.9"/><circle cx="221.1" cy="748.0" r="0.7"/><circle cx="227.1" cy="734.8" r="0.9"/><circle cx="214.9" cy="762.0" r="0.9"/><circle cx="228.5" cy="731.9" r="1.1"/><circle cx="221.7" cy="733.2" r="0.9"/><circle cx="210.0" cy="745.5" r="0.9"/><circle cx="231.3" cy="732.7" r="0.7"/><circle cx="224.2" cy="733.7" r="1.0"/><circle cx="227.5" cy="746.2" r="0.9"/><circle cx="211.0" cy="761.4" r="0.8"/><circle cx="217.4" cy="745.7" r="1.0"/><circle cx="207.9" cy="749.6" r="0.8"/><circle cx="225.2" cy="747.4" r="0.8"/><circle cx="222.2" cy="731.0" r="1.0"/><circle cx="223.2" cy="753.8" r="1.0"/><circle cx="223.5" cy="743.9" r="1.1"/><circle cx="220.6" cy="747.9" r="0.9"/><circle cx="220.8" cy="753.7" r="1.1"/><circle cx="230.1" cy="745.9" r="0.9"/></g>
<circle cx="277.5" cy="749.5" r="17.0" fill="#909090" opacity="0.6"/>
<g fill="#cfcfcf" opacity="1"><circle cx="275.4" cy="763.7" r="0.7"/><circle cx="271.9" cy="759.2" r="0.9"/><circle cx="265.1" cy="754.9" r="1.1"/><circle cx="292.6" cy="742.5" r="1.1"/><circle cx="278.7" cy="758.1" r="0.9"/><circle cx="269.0" cy="738.8" r="0.9"/><circle cx="287.3" cy="749.0" r="0.7"/><circle cx="284.2" cy="753.8" r="1.0"/><circle cx="279.4" cy="746.5" r="0.8"/><circle cx="278.2" cy="765.0" r="1.1"/><circle cx="277.0" cy="755.1" r="1.1"/><circle cx="292.1" cy="746.9" r="0.9"/><circle cx="277.2" cy="734.2" r="0.9"/><circle cx="275.8" cy="762.1" r="1.0"/><circle cx="271.2" cy="762.0" r="0.8"/><circle cx="285.4" cy="748.0" r="0.8"/><circle cx="294.0" cy="745.3" r="1.1"/><circle cx="286.2" cy="736.0" r="1.1"/><circle cx="273.1" cy="747.6" r="1.0"/><circle cx="285.7" cy="735.8" r="0.7"/><circle cx="291.4" cy="755.1" r="0.9"/><circle cx="291.2" cy="738.7" r="0.9"/><circle cx="271.1" cy="736.8" r="1.0"/><circle cx="268.1" cy="759.8" r="0.7"/><circle cx="289.5" cy="740.8" r="1.1"/><circle cx="269.8" cy="751.4" r="0.9"/><circle cx="272.0" cy="737.8" r="0.7"/><circle cx="288.5" cy="749.8" r="0.8"/><circle cx="278.7" cy="757.6" r="0.9"/><circle cx="271.9" cy="733.8" r="1.0"/><circle cx="293.7" cy="751.6" r="1.0"/><circle cx="275.9" cy="735.9" r="0.9"/><circle cx="275.0" cy="753.5" r="1.0"/><circle cx="291.1" cy="754.3" r="1.1"/><circle cx="270.8" cy="737.6" r="1.1"/><circle cx="292.8" cy="745.5" r="1.1"/><circle cx="275.5" cy="750.0" r="1.0"/><circle cx="267.0" cy="737.1" r="1.0"/><circle cx="276.7" cy="750.4" r="1.1"/><circle cx="265.2" cy="737.2" r="1.0"/><circle cx="286.8" cy="737.2" r="1.1"/><circle cx="261.4" cy="753.4" r="0.9"/><circle cx="287.5" cy="750.2" r="0.9"/><circle cx="288.5" cy="749.0" r="0.8"/><circle cx="275.5" cy="744.4" r="0.8"/><circle cx="272.6" cy="753.3" r="1.0"/><circle cx="263.6" cy="756.8" r="0.9"/><circle cx="285.2" cy="748.4" r="0.9"/><circle cx="277.8" cy="751.6" r="0.8"/><circle cx="285.0" cy="743.7" r="0.9"/><circle cx="268.6" cy="748.1" r="0.9"/><circle cx="287.0" cy="753.6" r="0.8"/><circle cx="283.6" cy="735.4" r="1.0"/><circle cx="264.0" cy="740.4" r="1.0"/><circle cx="283.4" cy="751.7" r="1.0"/><circle cx="286.8" cy="734.8" r="1.0"/><circle cx="284.7" cy="760.5" r="1.0"/><circle cx="272.4" cy="745.6" r="1.1"/><circle cx="268.4" cy="748.9" r="1.1"/><circle cx="274.0" cy="752.6" r="1.0"/><circle cx="277.0" cy="757.7" r="0.8"/><circle cx="269.8" cy="743.3" r="1.0"/><circle cx="291.9" cy="739.7" r="1.1"/><circle cx="285.3" cy="745.3" r="1.1"/><circle cx="288.8" cy="756.6" r="0.7"/><circle cx="291.3" cy="759.4" r="0.8"/><circle cx="274.9" cy="737.1" r="0.7"/><circle cx="278.7" cy="745.3" r="1.1"/><circle cx="282.6" cy="738.3" r="0.9"/><circle cx="291.9" cy="752.0" r="0.7"/><circle cx="260.9" cy="746.8" r="1.0"/><circle cx="288.6" cy="759.4" r="1.0"/><circle cx="270.2" cy="763.0" r="1.0"/><circle cx="266.6" cy="756.1" r="0.8"/><circle cx="273.7" cy="765.6" r="0.9"/><circle cx="278.9" cy="739.0" r="0.8"/><circle cx="294.7" cy="749.7" r="1.0"/><circle cx="290.8" cy="748.0" r="0.7"/><circle cx="279.5" cy="752.8" r="1.0"/><circle cx="265.2" cy="737.6" r="0.8"/><circle cx="278.4" cy="757.7" r="0.8"/><circle cx="289.6" cy="751.7" r="0.9"/><circle cx="266.0" cy="762.1" r="0.8"/><circle cx="283.4" cy="738.2" r="0.7"/><circle cx="290.9" cy="752.0" r="1.1"/><circle cx="291.4" cy="754.1" r="0.8"/><circle cx="271.4" cy="734.8" r="1.0"/><circle cx="277.7" cy="756.4" r="1.1"/><circle cx="292.0" cy="741.0" r="0.9"/><circle cx="287.6" cy="752.9" r="1.1"/><circle cx="286.2" cy="753.4" r="0.7"/><circle cx="285.1" cy="742.4" r="0.7"/><circle cx="272.6" cy="755.7" r="0.9"/><circle cx="266.9" cy="740.0" r="0.7"/><circle cx="273.5" cy="748.6" r="0.9"/><circle cx="280.7" cy="741.1" r="1.1"/><circle cx="277.9" cy="760.5" r="1.1"/><circle cx="290.5" cy="749.8" r="0.9"/><circle cx="273.8" cy="732.9" r="1.0"/><circle cx="278.8" cy="757.2" r="0.9"/><circle cx="275.0" cy="762.3" r="0.7"/><circle cx="273.6" cy="738.9" r="0.7"/><circle cx="289.8" cy="761.1" r="1.1"/><circle cx="285.5" cy="742.1" r="1.1"/><circle cx="284.7" cy="762.6" r="1.1"/><circle cx="277.8" cy="750.6" r="0.8"/><circle cx="291.1" cy="757.4" r="1.0"/><circle cx="271.6" cy="750.4" r="1.0"/><circle cx="281.7" cy="754.3" r="1.0"/><circle cx="267.8" cy="737.2" r="1.1"/><circle cx="283.8" cy="756.8" r="0.8"/><circle cx="274.6" cy="749.7" r="1.1"/><circle cx="271.0" cy="735.2" r="0.9"/><circle cx="291.1" cy="741.1" r="1.1"/><circle cx="280.3" cy="741.9" r="0.9"/><circle cx="291.9" cy="754.8" r="0.9"/><circle cx="286.9" cy="748.7" r="0.9"/><circle cx="289.0" cy="736.7" r="1.0"/><circle cx="289.9" cy="738.2" r="0.8"/><circle cx="274.2" cy="746.5" r="1.0"/><circle cx="289.4" cy="745.8" r="0.8"/><circle cx="273.4" cy="747.6" r="0.9"/><circle cx="287.4" cy="755.0" r="1.1"/><circle cx="276.4" cy="733.4" r="0.9"/><circle cx="273.7" cy="751.0" r="1.1"/><circle cx="267.4" cy="744.8" r="0.8"/><circle cx="273.3" cy="750.6" r="0.8"/><circle cx="287.5" cy="755.0" r="0.8"/><circle cx="283.9" cy="737.4" r="1.1"/><circle cx="270.9" cy="747.2" r="0.8"/><circle cx="284.6" cy="738.2" r="1.0"/><circle cx="274.9" cy="746.7" r="0.8"/><circle cx="262.9" cy="756.2" r="1.1"/><circle cx="270.0" cy="744.7" r="0.7"/><circle cx="267.1" cy="745.5" r="1.1"/><circle cx="279.6" cy="757.1" r="0.7"/><circle cx="293.0" cy="752.3" r="1.1"/><circle cx="278.7" cy="751.3" r="1.0"/><circle cx="277.8" cy="763.2" r="1.1"/><circle cx="277.3" cy="740.2" r="1.0"/><circle cx="273.7" cy="764.3" r="0.8"/><circle cx="287.3" cy="739.0" r="1.1"/><circle cx="267.8" cy="763.6" r="1.0"/><circle cx="276.9" cy="763.6" r="0.8"/><circle cx="280.1" cy="751.8" r="1.0"/><circle cx="277.8" cy="755.0" r="1.0"/><circle cx="287.0" cy="761.3" r="0.8"/><circle cx="266.5" cy="762.3" r="1.1"/><circle cx="286.3" cy="734.6" r="1.0"/><circle cx="290.2" cy="744.0" r="1.0"/><circle cx="272.7" cy="759.1" r="1.0"/><circle cx="277.8" cy="763.5" r="1.1"/><circle cx="276.0" cy="741.3" r="0.7"/><circle cx="269.8" cy="758.1" r="1.1"/><circle cx="265.5" cy="745.8" r="1.0"/><circle cx="263.9" cy="744.8" r="1.0"/><circle cx="269.5" cy="746.7" r="0.8"/><circle cx="262.2" cy="755.6" r="1.1"/><circle cx="273.9" cy="762.3" r="0.9"/><circle cx="270.4" cy="751.6" r="1.1"/><circle cx="284.7" cy="753.8" r="0.8"/><circle cx="279.7" cy="756.9" r="0.7"/><circle cx="270.3" cy="748.4" r="1.0"/><circle cx="266.3" cy="741.4" r="0.9"/><circle cx="270.3" cy="743.3" r="0.9"/><circle cx="274.4" cy="742.0" r="1.0"/><circle cx="262.7" cy="740.7" r="1.0"/><circle cx="262.9" cy="744.9" r="0.8"/><circle cx="269.5" cy="757.8" r="1.0"/><circle cx="276.1" cy="742.1" r="1.1"/><circle cx="289.7" cy="748.1" r="1.1"/><circle cx="269.6" cy="742.0" r="0.7"/><circle cx="290.9" cy="751.0" r="1.0"/><circle cx="265.9" cy="739.2" r="0.9"/><circle cx="276.8" cy="735.9" r="1.0"/><circle cx="263.9" cy="745.2" r="1.0"/><circle cx="289.6" cy="757.2" r="1.0"/><circle cx="262.0" cy="757.0" r="0.9"/><circle cx="283.8" cy="760.3" r="0.9"/><circle cx="285.9" cy="763.7" r="0.8"/><circle cx="275.8" cy="742.5" r="0.9"/><circle cx="282.7" cy="749.4" r="1.1"/><circle cx="294.8" cy="750.1" r="1.1"/><circle cx="264.3" cy="754.0" r="0.9"/><circle cx="282.9" cy="758.4" r="0.9"/><circle cx="281.5" cy="745.2" r="0.9"/><circle cx="264.7" cy="751.8" r="1.1"/><circle cx="269.4" cy="743.7" r="1.1"/><circle cx="270.1" cy="744.2" r="0.9"/><circle cx="280.0" cy="746.7" r="1.0"/><circle cx="268.1" cy="750.2" r="0.8"/><circle cx="278.8" cy="761.0" r="0.9"/><circle cx="270.2" cy="744.1" r="1.0"/><circle cx="262.1" cy="752.1" r="1.1"/><circle cx="278.9" cy="766.7" r="0.9"/><circle cx="273.0" cy="757.1" r="1.0"/><circle cx="264.2" cy="755.1" r="0.8"/><circle cx="283.2" cy="742.6" r="1.1"/><circle cx="267.2" cy="753.7" r="1.0"/><circle cx="264.7" cy="747.6" r="1.0"/><circle cx="291.8" cy="744.8" r="0.7"/><circle cx="279.7" cy="749.3" r="0.7"/><circle cx="281.3" cy="741.2" r="0.7"/><circle cx="283.0" cy="760.5" r="1.1"/><circle cx="284.6" cy="750.4" r="0.7"/><circle cx="286.8" cy="752.7" r="0.9"/><circle cx="291.3" cy="746.7" r="1.1"/><circle cx="263.4" cy="740.5" r="1.0"/><circle cx="278.2" cy="760.2" r="0.9"/><circle cx="290.5" cy="760.2" r="0.9"/><circle cx="281.3" cy="761.2" r="1.1"/><circle cx="275.5" cy="762.8" r="0.7"/><circle cx="277.9" cy="757.1" r="0.9"/><circle cx="274.3" cy="741.8" r="1.0"/><circle cx="264.5" cy="741.7" r="1.1"/><circle cx="268.8" cy="764.6" r="0.9"/><circle cx="270.1" cy="749.1" r="0.7"/><circle cx="274.1" cy="745.1" r="0.7"/><circle cx="288.6" cy="756.0" r="0.8"/><circle cx="276.2" cy="764.8" r="0.9"/><circle cx="286.2" cy="761.0" r="1.1"/><circle cx="269.1" cy="741.4" r="0.9"/><circle cx="272.8" cy="734.2" r="1.1"/><circle cx="277.7" cy="765.0" r="0.7"/><circle cx="286.1" cy="758.5" r="0.8"/><circle cx="268.9" cy="746.0" r="1.1"/><circle cx="263.1" cy="755.9" r="1.1"/><circle cx="262.8" cy="754.0" r="0.9"/><circle cx="272.5" cy="753.1" r="1.0"/><circle cx="290.3" cy="742.6" r="0.8"/><circle cx="267.2" cy="747.9" r="0.9"/><circle cx="277.7" cy="748.1" r="0.9"/><circle cx="270.8" cy="749.0" r="1.0"/><circle cx="277.3" cy="760.6" r="0.8"/><circle cx="268.1" cy="742.9" r="1.0"/><circle cx="263.7" cy="756.5" r="0.9"/><circle cx="287.2" cy="757.0" r="0.8"/><circle cx="272.4" cy="765.8" r="0.9"/><circle cx="277.0" cy="742.6" r="1.0"/><circle cx="283.6" cy="755.1" r="0.8"/><circle cx="294.0" cy="752.1" r="1.1"/><circle cx="276.2" cy="751.0" r="1.0"/><circle cx="275.6" cy="746.3" r="1.0"/><circle cx="285.2" cy="753.0" r="1.1"/><circle cx="278.4" cy="741.1" r="0.9"/><circle cx="281.7" cy="736.6" r="0.9"/><circle cx="279.3" cy="753.7" r="0.8"/><circle cx="264.1" cy="747.4" r="0.9"/><circle cx="268.9" cy="739.6" r="1.0"/><circle cx="263.9" cy="758.0" r="0.9"/><circle cx="290.2" cy="737.6" r="1.1"/><circle cx="279.5" cy="735.1" r="0.9"/><circle cx="277.6" cy="755.1" r="1.0"/><circle cx="277.7" cy="763.2" r="0.9"/><circle cx="268.5" cy="742.3" r="0.8"/><circle cx="272.7" cy="763.3" r="1.1"/><circle cx="273.4" cy="758.4" r="0.9"/><circle cx="264.9" cy="755.5" r="1.0"/><circle cx="279.2" cy="733.9" r="1.0"/><circle cx="289.0" cy="747.4" r="0.9"/></g>
<g fill="#d0d0d0" opacity="1"><circle cx="276.4" cy="762.4" r="1.1"/><circle cx="273.8" cy="768.9" r="1.0"/><circle cx="278.5" cy="766.6" r="0.9"/><circle cx="271.3" cy="767.2" r="0.9"/><circle cx="285.5" cy="761.5" r="1.1"/><circle cx="278.8" cy="767.1" r="1.2"/><circle cx="283.0" cy="767.8" r="1.2"/><circle cx="275.6" cy="759.6" r="1.1"/></g>
<g fill="#dcdcdc" opacity="1"><circle cx="117.1" cy="789.1" r="1.3"/><circle cx="107.6" cy="787.1" r="1.8"/><circle cx="111.2" cy="791.0" r="1.3"/><circle cx="113.4" cy="784.1" r="1.6"/><circle cx="105.2" cy="775.5" r="1.5"/><circle cx="122.5" cy="776.8" r="1.6"/><circle cx="116.9" cy="777.2" r="1.4"/><circle cx="105.1" cy="777.9" r="1.9"/><circle cx="112.4" cy="778.5" r="1.9"/><circle cx="108.4" cy="782.2" r="1.7"/><circle cx="106.1" cy="772.6" r="1.6"/><circle cx="113.2" cy="789.7" r="1.6"/><circle cx="108.3" cy="788.7" r="1.3"/><circle cx="113.4" cy="785.4" r="1.3"/><circle cx="103.7" cy="779.3" r="1.5"/><circle cx="120.8" cy="775.3" r="1.7"/><circle cx="111.0" cy="792.7" r="1.5"/><circle cx="116.7" cy="775.8" r="1.9"/><circle cx="111.5" cy="776.1" r="1.7"/><circle cx="117.5" cy="787.5" r="1.5"/><circle cx="110.0" cy="787.6" r="1.4"/><circle cx="110.7" cy="783.3" r="1.8"/><circle cx="107.6" cy="789.5" r="1.5"/><circle cx="124.1" cy="779.1" r="1.7"/><circle cx="119.4" cy="770.8" r="1.9"/><circle cx="105.9" cy="786.1" r="1.3"/><circle cx="109.2" cy="786.5" r="1.7"/><circle cx="123.5" cy="781.5" r="1.3"/><circle cx="106.4" cy="785.1" r="1.8"/><circle cx="110.5" cy="777.4" r="1.7"/></g>
<g fill="#dcdcdc" opacity="1"><circle cx="176.9" cy="790.3" r="1.5"/><circle cx="184.1" cy="778.2" r="1.4"/><circle cx="171.5" cy="791.9" r="1.5"/><circle cx="176.4" cy="789.6" r="1.7"/><circle cx="179.3" cy="779.2" r="1.5"/><circle cx="174.5" cy="771.8" r="1.7"/><circle cx="174.3" cy="777.1" r="1.3"/><circle cx="179.0" cy="786.7" r="1.4"/><circle cx="175.0" cy="784.6" r="1.3"/><circle cx="165.2" cy="778.8" r="1.4"/><circle cx="184.9" cy="786.5" r="1.3"/><circle cx="181.6" cy="787.2" r="1.4"/><circle cx="177.9" cy="771.8" r="1.6"/><circle cx="174.5" cy="782.0" r="1.8"/><circle cx="167.3" cy="787.8" r="1.3"/><circle cx="167.6" cy="784.3" r="1.4"/><circle cx="186.8" cy="785.9" r="1.9"/><circle cx="185.2" cy="780.5" r="1.7"/><circle cx="169.1" cy="775.4" r="1.4"/><circle cx="170.8" cy="774.0" r="1.7"/><circle cx="182.5" cy="782.3" r="1.3"/><circle cx="176.7" cy="771.9" r="1.4"/><circle cx="177.8" cy="771.7" r="1.4"/><circle cx="175.6" cy="780.8" r="1.3"/><circle cx="187.9" cy="783.3" r="1.8"/><circle cx="164.3" cy="777.2" r="1.6"/><circle cx="174.3" cy="776.8" r="1.5"/><circle cx="169.9" cy="775.4" r="1.7"/><circle cx="170.4" cy="788.9" r="1.4"/><circle cx="167.8" cy="781.0" r="1.6"/><circle cx="181.8" cy="782.6" r="1.7"/><circle cx="180.3" cy="788.0" r="1.9"/><circle cx="167.7" cy="773.7" r="1.8"/><circle cx="183.6" cy="779.0" r="1.5"/></g>
<g fill="#dcdcdc" opacity="1"><circle cx="230.1" cy="781.8" r="1.6"/><circle cx="228.4" cy="797.1" r="1.7"/><circle cx="237.1" cy="775.2" r="1.7"/><circle cx="241.1" cy="791.1" r="1.9"/><circle cx="221.9" cy="776.6" r="1.6"/><circle cx="224.4" cy="788.3" r="1.4"/><circle cx="233.1" cy="772.7" r="1.3"/><circle cx="219.4" cy="774.2" r="1.7"/><circle cx="236.4" cy="799.6" r="1.4"/><circle cx="219.5" cy="783.9" r="1.4"/><circle cx="229.3" cy="791.8" r="1.4"/><circle cx="242.0" cy="788.0" r="1.7"/><circle cx="229.8" cy="801.1" r="1.5"/><circle cx="215.6" cy="788.9" r="1.7"/><circle cx="216.9" cy="787.6" r="1.7"/><circle cx="228.5" cy="788.7" r="1.7"/><circle cx="229.8" cy="771.3" r="1.3"/><circle cx="229.8" cy="777.4" r="1.8"/><circle cx="221.1" cy="775.1" r="1.3"/><circle cx="221.2" cy="795.5" r="1.3"/><circle cx="239.7" cy="787.1" r="1.8"/><circle cx="224.9" cy="778.5" r="1.3"/><circle cx="237.4" cy="771.1" r="1.7"/><circle cx="233.6" cy="798.7" r="1.3"/><circle cx="234.1" cy="793.0" r="1.9"/><circle cx="236.1" cy="786.0" r="1.7"/><circle cx="230.6" cy="775.7" r="1.3"/><circle cx="239.3" cy="771.2" r="1.8"/><circle cx="225.9" cy="782.5" r="1.7"/><circle cx="221.6" cy="772.0" r="1.7"/><circle cx="214.7" cy="784.2" r="1.6"/><circle cx="218.3" cy="789.0" r="1.8"/><circle cx="217.2" cy="775.8" r="1.4"/><circle cx="241.6" cy="774.8" r="1.5"/><circle cx="241.8" cy="786.9" r="1.7"/><circle cx="241.2" cy="781.3" r="1.7"/><circle cx="230.4" cy="777.5" r="1.7"/><circle cx="223.3" cy="787.5" r="1.4"/><circle cx="221.4" cy="795.6" r="1.6"/><circle cx="228.4" cy="788.1" r="1.8"/><circle cx="230.3" cy="768.9" r="1.8"/><circle cx="237.6" cy="788.0" r="1.6"/><circle cx="225.9" cy="799.3" r="1.4"/><circle cx="240.4" cy="785.5" r="1.3"/><circle cx="241.9" cy="786.9" r="1.6"/><circle cx="226.0" cy="783.3" r="1.6"/><circle cx="221.5" cy="783.2" r="1.4"/><circle cx="236.0" cy="794.3" r="1.5"/><circle cx="219.1" cy="777.3" r="1.4"/><circle cx="223.8" cy="779.1" r="1.7"/></g>
<g fill="#dcdcdc" opacity="1"><circle cx="283.2" cy="802.9" r="1.7"/><circle cx="283.2" cy="777.9" r="1.8"/><circle cx="292.9" cy="788.7" r="1.5"/><circle cx="278.8" cy="803.7" r="1.3"/><circle cx="282.0" cy="794.8" r="1.7"/><circle cx="269.4" cy="800.9" r="1.8"/><circle cx="271.7" cy="788.0" r="1.5"/><circle cx="284.6" cy="791.9" r="1.8"/><circle cx="279.6" cy="791.5" r="1.9"/><circle cx="270.7" cy="800.5" r="1.5"/><circle cx="284.0" cy="789.0" r="1.6"/><circle cx="278.6" cy="787.8" r="1.8"/><circle cx="273.7" cy="802.2" r="1.3"/><circle cx="283.8" cy="792.4" r="1.8"/><circle cx="293.0" cy="784.1" r="1.6"/><circle cx="290.7" cy="798.3" r="1.6"/><circle cx="282.3" cy="776.4" r="1.6"/><circle cx="282.6" cy="795.8" r="1.3"/><circle cx="272.9" cy="793.9" r="1.9"/><circle cx="292.0" cy="794.6" r="1.3"/><circle cx="291.1" cy="800.1" r="1.4"/><circle cx="270.8" cy="782.5" r="1.5"/><circle cx="276.8" cy="795.3" r="1.7"/><circle cx="272.2" cy="799.7" r="1.8"/><circle cx="288.4" cy="795.2" r="1.5"/><circle cx="290.4" cy="784.3" r="1.4"/><circle cx="278.3" cy="790.5" r="1.6"/><circle cx="284.9" cy="792.7" r="1.6"/><circle cx="273.5" cy="788.1" r="1.6"/><circle cx="275.4" cy="803.5" r="1.3"/><circle cx="285.3" cy="780.2" r="1.4"/><circle cx="277.1" cy="803.3" r="1.3"/><circle cx="285.8" cy="785.7" r="1.5"/><circle cx="288.8" cy="795.2" r="1.9"/><circle cx="282.4" cy="796.8" r="1.6"/><circle cx="276.5" cy="784.9" r="1.4"/><circle cx="274.4" cy="784.8" r="1.3"/><circle cx="275.4" cy="774.8" r="1.8"/><circle cx="284.1" cy="783.7" r="1.5"/><circle cx="270.8" cy="782.0" r="1.7"/><circle cx="273.4" cy="787.2" r="1.4"/><circle cx="283.0" cy="792.1" r="1.6"/><circle cx="291.6" cy="798.4" r="1.9"/><circle cx="288.6" cy="803.6" r="1.7"/><circle cx="289.0" cy="790.4" r="1.5"/><circle cx="278.6" cy="794.2" r="1.4"/></g>
</g></g>
<rect x="330.8" y="616.8" width="227.6" height="194.8" fill="url(#p2)"/>
<rect x="330.8" y="616.8" width="227.6" height="194.8" fill="url(#p2h)"/>
<g clip-path="url(#pc2)">
<path d="M330.5,796 L344,811.5" stroke="#8a8a8c" stroke-width="1.3" opacity="0.7" filter="url(#sf)"/>
<g filter="url(#sf)">
<circle cx="359.8" cy="640.8" r="16.6" fill="url(#cW)"/>
<circle cx="360.6" cy="685.2" r="16.2" fill="#b4b4b4"/>
<g fill="#e2e2e2" opacity="1"><circle cx="370.6" cy="686.3" r="0.7"/><circle cx="362.3" cy="699.5" r="0.9"/><circle cx="347.2" cy="685.2" r="0.7"/><circle cx="360.8" cy="672.0" r="0.7"/><circle cx="360.1" cy="676.3" r="0.6"/><circle cx="356.2" cy="687.7" r="0.9"/><circle cx="360.5" cy="695.8" r="0.9"/><circle cx="348.9" cy="676.9" r="0.9"/><circle cx="356.0" cy="673.1" r="0.8"/><circle cx="370.7" cy="679.5" r="0.8"/><circle cx="350.2" cy="681.8" r="1.0"/><circle cx="358.6" cy="691.4" r="0.8"/><circle cx="355.8" cy="696.9" r="0.8"/><circle cx="367.5" cy="685.3" r="0.8"/><circle cx="350.8" cy="692.7" r="0.7"/><circle cx="370.1" cy="693.2" r="1.0"/><circle cx="370.5" cy="691.6" r="0.8"/><circle cx="352.5" cy="678.3" r="0.8"/><circle cx="374.6" cy="684.3" r="0.7"/><circle cx="365.3" cy="673.9" r="0.9"/><circle cx="364.6" cy="685.1" r="0.6"/><circle cx="362.1" cy="698.7" r="1.0"/><circle cx="362.1" cy="695.5" r="0.9"/><circle cx="358.6" cy="673.9" r="0.9"/><circle cx="364.6" cy="683.1" r="1.0"/><circle cx="357.6" cy="696.6" r="0.9"/><circle cx="358.3" cy="693.2" r="1.0"/><circle cx="364.4" cy="670.9" r="0.5"/><circle cx="351.6" cy="676.0" r="1.0"/><circle cx="359.4" cy="677.4" r="0.6"/><circle cx="364.1" cy="692.0" r="0.8"/><circle cx="358.0" cy="690.4" r="0.5"/><circle cx="355.3" cy="672.8" r="0.6"/><circle cx="345.8" cy="683.9" r="0.7"/><circle cx="347.4" cy="682.3" r="0.5"/><circle cx="369.8" cy="675.8" r="0.9"/><circle cx="354.8" cy="694.0" r="1.0"/><circle cx="364.6" cy="686.8" r="0.8"/><circle cx="366.1" cy="683.5" r="0.6"/><circle cx="347.7" cy="688.5" r="0.8"/><circle cx="358.8" cy="682.3" r="0.6"/><circle cx="349.6" cy="678.7" r="0.5"/><circle cx="367.7" cy="689.7" r="0.7"/><circle cx="357.5" cy="690.6" r="0.5"/><circle cx="351.6" cy="673.6" r="0.8"/><circle cx="365.3" cy="682.6" r="0.8"/><circle cx="351.5" cy="695.6" r="0.8"/><circle cx="349.8" cy="675.8" r="1.0"/><circle cx="367.1" cy="692.7" r="0.5"/><circle cx="354.0" cy="682.6" r="0.8"/><circle cx="359.8" cy="686.2" r="0.9"/><circle cx="366.0" cy="690.7" r="0.8"/><circle cx="372.9" cy="689.8" r="0.9"/><circle cx="369.3" cy="693.1" r="0.6"/><circle cx="356.1" cy="684.3" r="0.6"/><circle cx="350.1" cy="688.6" r="0.8"/><circle cx="368.4" cy="681.4" r="0.7"/><circle cx="363.9" cy="697.7" r="0.7"/><circle cx="362.2" cy="691.6" r="0.7"/><circle cx="365.7" cy="676.7" r="0.9"/><circle cx="349.3" cy="687.2" r="0.6"/><circle cx="349.8" cy="692.1" r="0.5"/><circle cx="353.4" cy="687.3" r="0.6"/><circle cx="357.1" cy="690.9" r="0.8"/><circle cx="367.7" cy="687.0" r="0.6"/><circle cx="366.4" cy="697.6" r="0.8"/><circle cx="364.8" cy="681.7" r="0.6"/><circle cx="356.5" cy="695.1" r="0.9"/><circle cx="367.6" cy="673.2" r="0.5"/><circle cx="369.2" cy="686.7" r="0.7"/></g>
<g fill="#8a8a8a" opacity="1"><circle cx="369.5" cy="685.6" r="0.6"/><circle cx="365.4" cy="680.3" r="0.6"/><circle cx="366.9" cy="697.5" r="0.5"/><circle cx="354.1" cy="687.8" r="0.6"/><circle cx="373.3" cy="684.8" r="0.8"/><circle cx="351.5" cy="696.9" r="0.9"/><circle cx="355.9" cy="679.8" r="0.5"/><circle cx="350.5" cy="682.3" r="0.8"/><circle cx="374.2" cy="685.1" r="0.6"/><circle cx="372.3" cy="684.1" r="0.5"/><circle cx="364.4" cy="699.4" r="0.8"/><circle cx="359.9" cy="673.0" r="0.5"/><circle cx="368.1" cy="682.0" r="0.8"/><circle cx="350.4" cy="682.6" r="0.7"/><circle cx="372.6" cy="678.5" r="0.7"/><circle cx="364.4" cy="680.2" r="0.6"/><circle cx="359.2" cy="688.1" r="0.7"/><circle cx="375.4" cy="685.4" r="0.8"/><circle cx="356.9" cy="685.7" r="0.6"/><circle cx="361.8" cy="677.2" r="0.5"/><circle cx="350.4" cy="690.2" r="0.6"/><circle cx="352.6" cy="693.0" r="0.8"/><circle cx="348.1" cy="693.4" r="0.6"/><circle cx="360.6" cy="681.0" r="0.9"/><circle cx="354.6" cy="683.5" r="0.8"/><circle cx="364.6" cy="681.6" r="0.9"/><circle cx="369.3" cy="682.9" r="0.8"/><circle cx="358.5" cy="674.1" r="0.7"/><circle cx="355.4" cy="697.7" r="0.8"/><circle cx="364.3" cy="683.9" r="0.7"/><circle cx="358.7" cy="678.5" r="0.5"/><circle cx="371.0" cy="677.0" r="0.8"/><circle cx="355.7" cy="693.8" r="0.8"/><circle cx="371.2" cy="692.3" r="0.8"/><circle cx="346.4" cy="688.6" r="0.8"/><circle cx="365.5" cy="680.8" r="0.7"/><circle cx="357.8" cy="695.4" r="0.8"/><circle cx="374.9" cy="684.4" r="0.8"/><circle cx="373.3" cy="683.2" r="0.8"/><circle cx="368.7" cy="690.4" r="0.7"/></g>
<circle cx="360.6" cy="685.2" r="15.8" fill="none" stroke="#d8d8d8" stroke-width="1"/>
<g fill="#b0b0b0" opacity="0.8"><circle cx="374.5" cy="736.8" r="0.5"/><circle cx="364.6" cy="732.8" r="0.6"/><circle cx="357.6" cy="740.1" r="0.7"/><circle cx="359.6" cy="731.2" r="0.4"/><circle cx="360.4" cy="719.1" r="0.6"/><circle cx="355.8" cy="728.6" r="0.8"/><circle cx="370.5" cy="731.1" r="0.7"/><circle cx="361.3" cy="736.0" r="0.6"/><circle cx="361.0" cy="740.2" r="0.4"/><circle cx="353.7" cy="725.0" r="0.5"/><circle cx="363.4" cy="720.9" r="0.6"/><circle cx="370.5" cy="733.5" r="0.6"/><circle cx="357.4" cy="723.0" r="0.4"/><circle cx="352.2" cy="725.8" r="0.5"/><circle cx="367.2" cy="739.2" r="0.5"/><circle cx="367.3" cy="731.1" r="0.6"/><circle cx="373.1" cy="720.9" r="0.6"/><circle cx="373.2" cy="720.1" r="0.5"/><circle cx="354.6" cy="738.0" r="0.8"/><circle cx="357.6" cy="720.6" r="0.5"/><circle cx="370.9" cy="733.1" r="0.5"/><circle cx="357.0" cy="720.8" r="0.7"/><circle cx="364.7" cy="728.7" r="0.5"/><circle cx="371.0" cy="733.7" r="0.8"/><circle cx="352.6" cy="731.3" r="0.5"/><circle cx="357.0" cy="738.5" r="0.5"/><circle cx="363.1" cy="718.5" r="0.7"/><circle cx="372.4" cy="730.4" r="0.8"/><circle cx="359.4" cy="733.9" r="0.8"/><circle cx="354.9" cy="722.9" r="0.6"/><circle cx="358.4" cy="723.0" r="0.5"/><circle cx="362.8" cy="735.1" r="0.7"/><circle cx="368.3" cy="731.3" r="0.6"/><circle cx="376.3" cy="728.1" r="0.7"/><circle cx="364.1" cy="722.8" r="0.6"/><circle cx="374.1" cy="730.0" r="0.4"/><circle cx="367.9" cy="732.0" r="0.5"/><circle cx="358.2" cy="729.9" r="0.4"/><circle cx="373.9" cy="738.0" r="0.8"/><circle cx="368.7" cy="726.3" r="0.5"/><circle cx="365.6" cy="727.7" r="0.5"/><circle cx="356.5" cy="718.2" r="0.8"/><circle cx="368.7" cy="722.6" r="0.7"/><circle cx="376.2" cy="723.9" r="0.8"/><circle cx="365.3" cy="717.0" r="0.7"/><circle cx="355.4" cy="733.7" r="0.8"/><circle cx="362.5" cy="728.0" r="0.6"/><circle cx="372.2" cy="720.7" r="0.6"/><circle cx="375.1" cy="724.2" r="0.5"/><circle cx="360.6" cy="716.9" r="0.4"/><circle cx="372.6" cy="725.5" r="0.7"/><circle cx="372.0" cy="729.5" r="0.5"/><circle cx="366.6" cy="739.6" r="0.7"/><circle cx="356.8" cy="718.5" r="0.4"/><circle cx="362.4" cy="737.2" r="0.7"/><circle cx="363.4" cy="715.5" r="0.7"/><circle cx="353.0" cy="726.7" r="0.7"/><circle cx="353.4" cy="727.5" r="0.7"/><circle cx="367.0" cy="724.2" r="0.4"/><circle cx="361.1" cy="717.1" r="0.5"/><circle cx="371.4" cy="719.4" r="0.5"/><circle cx="370.6" cy="738.0" r="0.6"/><circle cx="371.3" cy="739.8" r="0.5"/><circle cx="371.0" cy="717.5" r="0.4"/><circle cx="361.4" cy="719.4" r="0.8"/><circle cx="356.3" cy="731.9" r="0.5"/><circle cx="368.8" cy="722.6" r="0.8"/><circle cx="376.8" cy="731.6" r="0.4"/><circle cx="362.2" cy="715.9" r="0.5"/><circle cx="357.1" cy="724.2" r="0.4"/></g>
<g fill="#e0e0e0" opacity="1"><circle cx="365.7" cy="724.9" r="0.8"/><circle cx="365.9" cy="729.0" r="0.6"/><circle cx="363.9" cy="727.7" r="0.5"/><circle cx="360.8" cy="731.1" r="0.8"/><circle cx="365.4" cy="726.2" r="0.8"/><circle cx="360.2" cy="732.6" r="0.8"/><circle cx="367.2" cy="730.3" r="0.7"/><circle cx="359.2" cy="729.6" r="0.8"/><circle cx="360.0" cy="731.0" r="0.8"/><circle cx="362.4" cy="726.1" r="0.6"/><circle cx="362.7" cy="734.3" r="0.7"/><circle cx="367.8" cy="724.4" r="0.8"/><circle cx="360.0" cy="732.3" r="0.7"/><circle cx="367.6" cy="727.3" r="0.8"/><circle cx="361.6" cy="724.1" r="0.6"/><circle cx="359.9" cy="726.9" r="0.8"/><circle cx="363.9" cy="725.8" r="0.6"/><circle cx="363.3" cy="734.4" r="0.7"/><circle cx="357.9" cy="730.3" r="0.8"/><circle cx="366.2" cy="725.2" r="0.6"/><circle cx="362.3" cy="729.8" r="0.7"/><circle cx="359.5" cy="729.8" r="0.9"/><circle cx="361.1" cy="728.0" r="0.6"/><circle cx="361.7" cy="724.6" r="0.7"/><circle cx="359.7" cy="728.7" r="0.8"/></g>
<g fill="#808080" opacity="0.6"><circle cx="368.3" cy="766.9" r="0.5"/><circle cx="370.0" cy="774.9" r="0.5"/><circle cx="370.6" cy="759.2" r="0.6"/><circle cx="365.3" cy="763.7" r="0.4"/><circle cx="369.5" cy="764.0" r="0.5"/><circle cx="366.0" cy="765.7" r="0.7"/><circle cx="361.5" cy="765.5" r="0.4"/><circle cx="365.0" cy="769.1" r="0.6"/></g>
<circle cx="416.8" cy="641.6" r="16" fill="#787878" opacity="0.42"/>
<circle cx="416.8" cy="641.6" r="15.6" fill="none" stroke="#828282" stroke-width="0.8" opacity="0.5"/>
<circle cx="472.6" cy="645.4" r="16" fill="#787878" opacity="0.42"/>
<circle cx="472.6" cy="645.4" r="15.6" fill="none" stroke="#828282" stroke-width="0.8" opacity="0.5"/>
<circle cx="526.8" cy="647.3" r="16" fill="#787878" opacity="0.42"/>
<circle cx="526.8" cy="647.3" r="15.6" fill="none" stroke="#828282" stroke-width="0.8" opacity="0.5"/>
<g fill="#9a9a9a" opacity="0.7"><circle cx="466.2" cy="636.8" r="0.7"/><circle cx="464.7" cy="648.5" r="0.6"/><circle cx="465.8" cy="643.0" r="0.7"/><circle cx="473.2" cy="649.2" r="0.6"/><circle cx="483.6" cy="638.5" r="0.6"/><circle cx="464.9" cy="639.0" r="0.5"/><circle cx="477.3" cy="653.4" r="0.6"/><circle cx="459.5" cy="640.8" r="0.6"/><circle cx="462.2" cy="642.5" r="0.5"/><circle cx="483.3" cy="638.4" r="0.5"/><circle cx="482.0" cy="638.7" r="0.5"/><circle cx="472.3" cy="636.3" r="0.6"/><circle cx="461.5" cy="645.1" r="0.7"/><circle cx="480.1" cy="639.2" r="0.5"/><circle cx="470.1" cy="634.2" r="0.4"/><circle cx="465.2" cy="645.0" r="0.6"/><circle cx="476.4" cy="652.0" r="0.5"/><circle cx="470.6" cy="655.7" r="0.7"/><circle cx="465.5" cy="636.7" r="0.6"/><circle cx="465.5" cy="651.2" r="0.6"/><circle cx="475.9" cy="657.1" r="0.7"/><circle cx="475.2" cy="643.0" r="0.7"/><circle cx="473.4" cy="650.4" r="0.6"/><circle cx="469.2" cy="650.3" r="0.6"/><circle cx="462.6" cy="643.1" r="0.6"/><circle cx="463.4" cy="637.1" r="0.6"/><circle cx="469.1" cy="633.2" r="0.5"/><circle cx="469.6" cy="641.8" r="0.4"/><circle cx="461.6" cy="648.8" r="0.5"/><circle cx="479.9" cy="643.5" r="0.5"/></g>
<g fill="#9a9a9a" opacity="0.7"><circle cx="513.3" cy="650.0" r="0.4"/><circle cx="526.7" cy="658.4" r="0.5"/><circle cx="524.0" cy="651.5" r="0.7"/><circle cx="516.8" cy="651.1" r="0.5"/><circle cx="531.0" cy="645.5" r="0.6"/><circle cx="536.1" cy="651.4" r="0.5"/><circle cx="535.6" cy="644.5" r="0.7"/><circle cx="533.5" cy="648.5" r="0.7"/><circle cx="524.9" cy="649.3" r="0.5"/><circle cx="520.2" cy="655.0" r="0.5"/><circle cx="523.5" cy="656.4" r="0.5"/><circle cx="530.9" cy="656.5" r="0.6"/><circle cx="516.0" cy="641.9" r="0.5"/><circle cx="529.9" cy="660.5" r="0.4"/><circle cx="523.8" cy="655.8" r="0.5"/><circle cx="530.0" cy="659.9" r="0.5"/><circle cx="516.3" cy="644.1" r="0.4"/><circle cx="522.2" cy="649.4" r="0.6"/><circle cx="525.2" cy="634.5" r="0.7"/><circle cx="534.0" cy="653.5" r="0.6"/><circle cx="517.2" cy="657.0" r="0.5"/><circle cx="529.3" cy="644.6" r="0.5"/><circle cx="522.6" cy="635.2" r="0.5"/><circle cx="534.5" cy="637.8" r="0.5"/><circle cx="524.2" cy="637.6" r="0.4"/></g>
</g></g>
</svg>
</body></html>
